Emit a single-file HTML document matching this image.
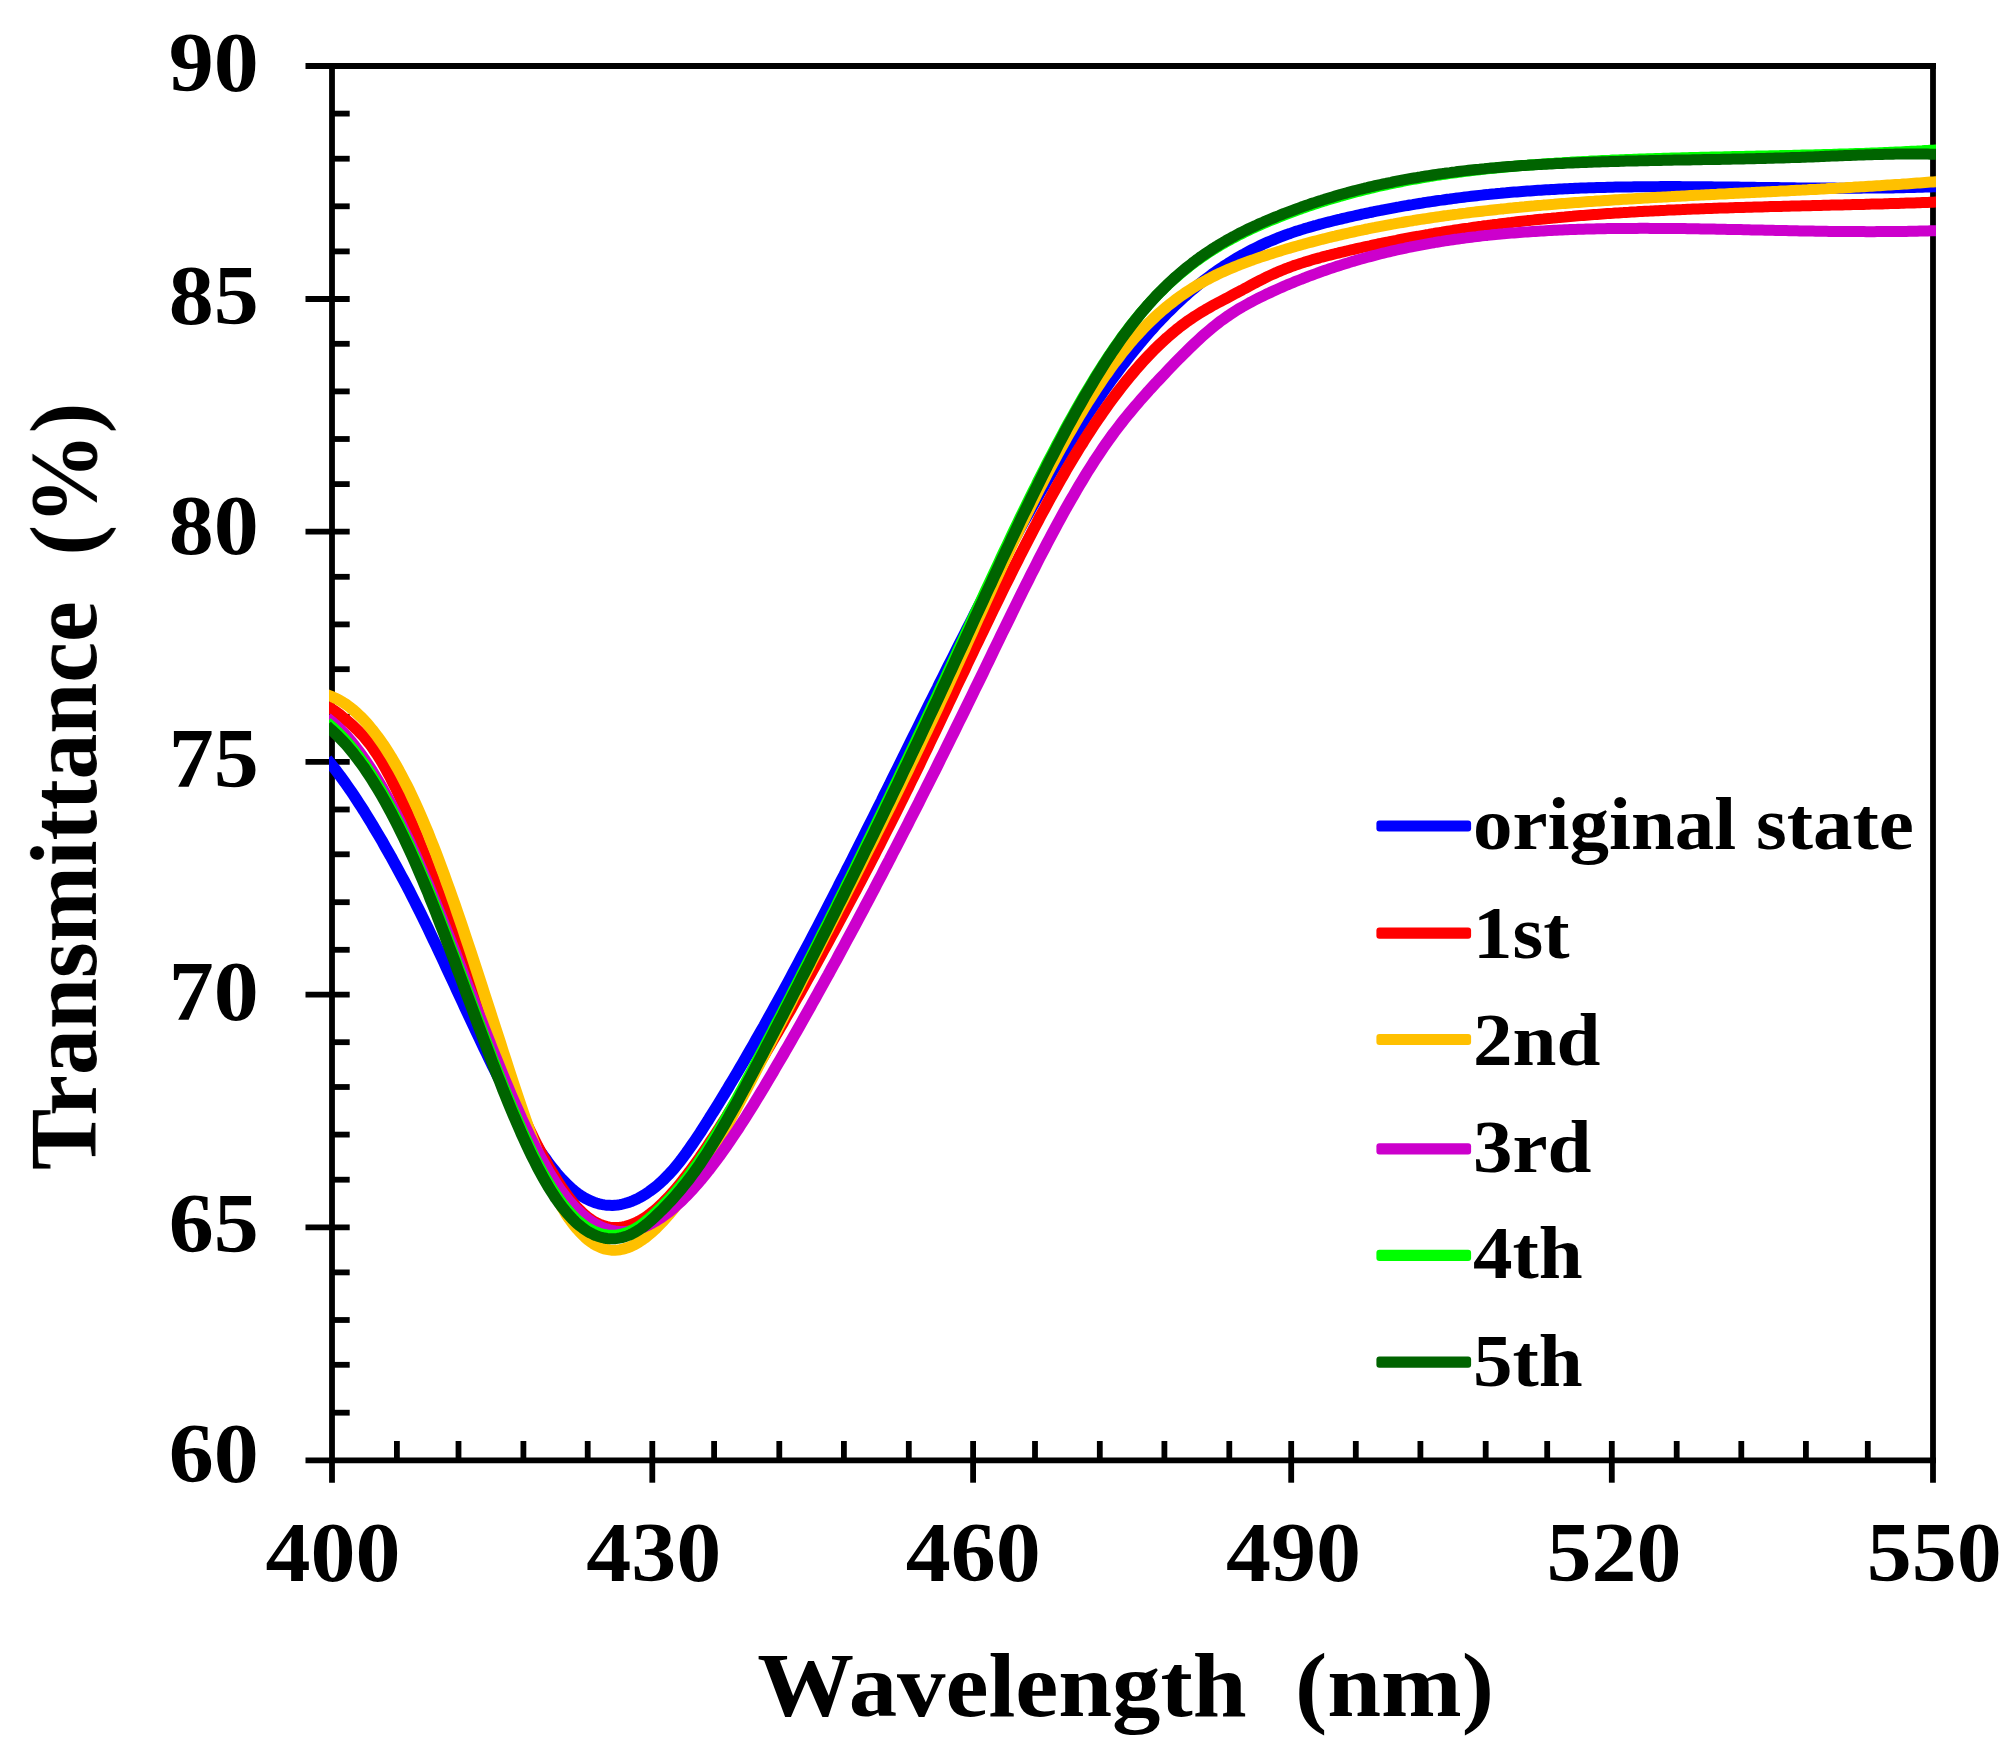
<!DOCTYPE html>
<html><head><meta charset="utf-8"><title>Transmittance</title>
<style>
html,body{margin:0;padding:0;background:#fff}
svg{display:block}
text{font-family:"Liberation Serif","Times New Roman",serif;font-weight:bold;fill:#000;white-space:pre;filter:blur(0.6px)}
.ax{stroke:#000;stroke-width:5.8;fill:none;stroke-linecap:butt}
.cv{fill:none;stroke-width:11;stroke-linejoin:round;stroke-linecap:butt}
.lg{fill:none;stroke-width:12;stroke-linecap:round}
</style></head><body>
<svg width="2011" height="1753" viewBox="0 0 2011 1753">
<rect width="2011" height="1753" fill="#fff"/>
<defs><clipPath id="cp"><rect x="329" y="60" width="1607" height="1403"/></clipPath></defs>

<g class="ax">
<path d="M305.5,66.0 H1936"/>
<path d="M332.0,63 V1482.7"/>
<path d="M1933.0,63 V1482.7"/>
<path d="M305.5,1460.3 H1936"/>
<path d="M332.0,113.6 H349.7"/>
<path d="M332.0,158.7 H349.7"/>
<path d="M332.0,206.3 H349.7"/>
<path d="M332.0,251.4 H349.7"/>
<path d="M305.5,299.0 H349.7"/>
<path d="M332.0,343.8 H349.7"/>
<path d="M332.0,391.4 H349.7"/>
<path d="M332.0,439.0 H349.7"/>
<path d="M332.0,484.1 H349.7"/>
<path d="M305.5,531.7 H349.7"/>
<path d="M332.0,576.8 H349.7"/>
<path d="M332.0,624.4 H349.7"/>
<path d="M332.0,669.2 H349.7"/>
<path d="M332.0,716.8 H349.7"/>
<path d="M305.5,761.9 H349.7"/>
<path d="M332.0,809.5 H349.7"/>
<path d="M332.0,854.3 H349.7"/>
<path d="M332.0,902.2 H349.7"/>
<path d="M332.0,949.8 H349.7"/>
<path d="M305.5,994.6 H349.7"/>
<path d="M332.0,1042.2 H349.7"/>
<path d="M332.0,1087.0 H349.7"/>
<path d="M332.0,1134.6 H349.7"/>
<path d="M332.0,1179.7 H349.7"/>
<path d="M305.5,1227.3 H349.7"/>
<path d="M332.0,1272.4 H349.7"/>
<path d="M332.0,1320.0 H349.7"/>
<path d="M332.0,1364.8 H349.7"/>
<path d="M332.0,1412.7 H349.7"/>
<path d="M396.9,1441 V1460.3"/>
<path d="M458.5,1441 V1460.3"/>
<path d="M523.4,1441 V1460.3"/>
<path d="M587.7,1441 V1460.3"/>
<path d="M652.3,1441 V1482.7"/>
<path d="M714.1,1441 V1460.3"/>
<path d="M779.3,1441 V1460.3"/>
<path d="M843.9,1441 V1460.3"/>
<path d="M908.8,1441 V1460.3"/>
<path d="M973.1,1441 V1482.7"/>
<path d="M1035.0,1441 V1460.3"/>
<path d="M1099.8,1441 V1460.3"/>
<path d="M1164.4,1441 V1460.3"/>
<path d="M1229.3,1441 V1460.3"/>
<path d="M1291.2,1441 V1482.7"/>
<path d="M1355.8,1441 V1460.3"/>
<path d="M1420.4,1441 V1460.3"/>
<path d="M1485.7,1441 V1460.3"/>
<path d="M1547.2,1441 V1460.3"/>
<path d="M1611.8,1441 V1482.7"/>
<path d="M1676.7,1441 V1460.3"/>
<path d="M1741.3,1441 V1460.3"/>
<path d="M1805.9,1441 V1460.3"/>
<path d="M1867.8,1441 V1460.3"/>
</g>
<g clip-path="url(#cp)"><g transform="scale(1.08,1)">
<path class="cv" stroke="#0000ff" d="M302.5,758.8 L304.9,762.1 L307.4,765.4 L309.9,768.7 L312.3,772.2 L314.8,775.7 L317.3,779.4 L319.8,783.1 L322.2,786.9 L324.7,790.7 L327.2,794.7 L329.6,798.7 L332.1,802.8 L334.6,806.9 L337.1,811.1 L339.5,815.4 L342.0,819.7 L344.5,824.1 L346.9,828.6 L349.4,833.1 L351.9,837.6 L354.4,842.2 L356.8,846.9 L359.3,851.6 L361.8,856.3 L364.2,861.1 L366.7,866.0 L369.2,870.9 L371.6,875.8 L374.1,880.8 L376.6,885.9 L379.1,891.0 L381.5,896.2 L384.0,901.5 L386.5,906.8 L388.9,912.1 L391.4,917.5 L393.9,923.0 L396.4,928.5 L398.8,934.1 L401.3,939.7 L403.8,945.3 L406.2,950.9 L408.7,956.6 L411.2,962.3 L413.6,968.0 L416.1,973.8 L418.6,979.5 L421.1,985.3 L423.5,991.0 L426.0,996.8 L428.5,1002.6 L430.9,1008.3 L433.4,1014.0 L435.9,1019.8 L438.4,1025.5 L440.8,1031.2 L443.3,1036.8 L445.8,1042.4 L448.2,1048.0 L450.7,1053.6 L453.2,1059.1 L455.6,1064.6 L458.1,1070.0 L460.6,1075.4 L463.1,1080.7 L465.5,1085.9 L468.0,1091.1 L470.5,1096.2 L472.9,1101.3 L475.4,1106.3 L477.9,1111.2 L480.4,1116.0 L482.8,1120.7 L485.3,1125.3 L487.8,1129.9 L490.2,1134.3 L492.7,1138.7 L495.2,1142.9 L497.6,1147.0 L500.1,1151.1 L502.6,1155.0 L505.1,1158.7 L507.5,1162.4 L510.0,1165.9 L512.5,1169.3 L514.9,1172.6 L517.4,1175.7 L519.9,1178.7 L522.4,1181.5 L524.8,1184.2 L527.3,1186.7 L529.8,1189.1 L532.2,1191.3 L534.7,1193.3 L537.2,1195.2 L539.7,1196.9 L542.1,1198.4 L544.6,1199.8 L547.1,1201.0 L549.5,1202.1 L552.0,1203.0 L554.5,1203.8 L556.9,1204.4 L559.4,1204.9 L561.9,1205.2 L564.4,1205.3 L566.8,1205.4 L569.3,1205.2 L571.8,1205.0 L574.2,1204.6 L576.7,1204.0 L579.2,1203.3 L581.7,1202.5 L584.1,1201.6 L586.6,1200.5 L589.1,1199.3 L591.5,1198.0 L594.0,1196.5 L596.5,1194.9 L598.9,1193.2 L601.4,1191.4 L603.9,1189.4 L606.4,1187.4 L608.8,1185.2 L611.3,1182.9 L613.8,1180.4 L616.2,1177.8 L618.7,1175.1 L621.2,1172.2 L623.7,1169.2 L626.1,1166.0 L628.6,1162.7 L631.1,1159.3 L633.5,1155.7 L636.0,1152.1 L638.5,1148.3 L640.9,1144.5 L643.4,1140.6 L645.9,1136.6 L648.4,1132.6 L650.8,1128.5 L653.3,1124.3 L655.8,1120.1 L658.2,1115.8 L660.7,1111.6 L663.2,1107.3 L665.7,1102.9 L668.1,1098.6 L670.6,1094.2 L673.1,1089.8 L675.5,1085.3 L678.0,1080.9 L680.5,1076.4 L683.0,1071.9 L685.4,1067.4 L687.9,1062.8 L690.4,1058.2 L692.8,1053.6 L695.3,1049.0 L697.8,1044.3 L700.2,1039.6 L702.7,1034.9 L705.2,1030.2 L707.7,1025.5 L710.1,1020.7 L712.6,1015.9 L715.1,1011.1 L717.5,1006.3 L720.0,1001.4 L722.5,996.6 L725.0,991.7 L727.4,986.8 L729.9,981.9 L732.4,976.9 L734.8,972.0 L737.3,967.0 L739.8,962.0 L742.2,957.0 L744.7,952.0 L747.2,946.9 L749.7,941.8 L752.1,936.8 L754.6,931.7 L757.1,926.6 L759.5,921.5 L762.0,916.3 L764.5,911.2 L767.0,906.0 L769.4,900.8 L771.9,895.7 L774.4,890.5 L776.8,885.2 L779.3,880.0 L781.8,874.8 L784.2,869.5 L786.7,864.3 L789.2,859.0 L791.7,853.7 L794.1,848.4 L796.6,843.1 L799.1,837.8 L801.5,832.5 L804.0,827.2 L806.5,821.9 L809.0,816.5 L811.4,811.2 L813.9,805.8 L816.4,800.5 L818.8,795.1 L821.3,789.7 L823.8,784.4 L826.2,779.0 L828.7,773.6 L831.2,768.2 L833.7,762.8 L836.1,757.4 L838.6,752.0 L841.1,746.6 L843.5,741.3 L846.0,735.9 L848.5,730.5 L851.0,725.1 L853.4,719.7 L855.9,714.3 L858.4,708.9 L860.8,703.6 L863.3,698.2 L865.8,692.8 L868.3,687.5 L870.7,682.1 L873.2,676.8 L875.7,671.4 L878.1,666.1 L880.6,660.8 L883.1,655.5 L885.5,650.2 L888.0,644.9 L890.5,639.6 L893.0,634.3 L895.4,629.1 L897.9,623.9 L900.4,618.6 L902.8,613.4 L905.3,608.2 L907.8,603.0 L910.3,597.9 L912.7,592.7 L915.2,587.6 L917.7,582.5 L920.1,577.4 L922.6,572.3 L925.1,567.3 L927.5,562.2 L930.0,557.2 L932.5,552.2 L935.0,547.3 L937.4,542.3 L939.9,537.4 L942.4,532.5 L944.8,527.6 L947.3,522.8 L949.8,517.9 L952.3,513.1 L954.7,508.4 L957.2,503.6 L959.7,498.9 L962.1,494.2 L964.6,489.6 L967.1,484.9 L969.5,480.3 L972.0,475.8 L974.5,471.2 L977.0,466.7 L979.4,462.3 L981.9,457.8 L984.4,453.4 L986.8,449.1 L989.3,444.7 L991.8,440.4 L994.3,436.2 L996.7,432.0 L999.2,427.8 L1001.7,423.6 L1004.1,419.5 L1006.6,415.4 L1009.1,411.4 L1011.6,407.4 L1014.0,403.5 L1016.5,399.6 L1019.0,395.7 L1021.4,391.9 L1023.9,388.1 L1026.4,384.3 L1028.8,380.6 L1031.3,376.9 L1033.8,373.3 L1036.3,369.7 L1038.7,366.2 L1041.2,362.7 L1043.7,359.3 L1046.1,355.9 L1048.6,352.5 L1051.1,349.2 L1053.6,345.9 L1056.0,342.7 L1058.5,339.6 L1061.0,336.4 L1063.4,333.4 L1065.9,330.3 L1068.4,327.4 L1070.8,324.4 L1073.3,321.6 L1075.8,318.7 L1078.3,316.0 L1080.7,313.2 L1083.2,310.6 L1085.7,307.9 L1088.1,305.3 L1090.6,302.8 L1093.1,300.3 L1095.6,297.9 L1098.0,295.5 L1100.5,293.1 L1103.0,290.8 L1105.4,288.6 L1107.9,286.4 L1110.4,284.2 L1112.8,282.1 L1115.3,280.0 L1117.8,278.0 L1120.3,276.0 L1122.7,274.0 L1125.2,272.1 L1127.7,270.2 L1130.1,268.4 L1132.6,266.6 L1135.1,264.9 L1137.6,263.1 L1140.0,261.5 L1142.5,259.8 L1145.0,258.2 L1147.4,256.7 L1149.9,255.1 L1152.4,253.7 L1154.9,252.2 L1157.3,250.8 L1159.8,249.4 L1162.3,248.1 L1164.7,246.8 L1167.2,245.5 L1169.7,244.2 L1172.1,243.0 L1174.6,241.8 L1177.1,240.7 L1179.6,239.6 L1182.0,238.5 L1184.5,237.4 L1187.0,236.4 L1189.4,235.4 L1191.9,234.4 L1194.4,233.5 L1196.9,232.5 L1199.3,231.6 L1201.8,230.8 L1204.3,229.9 L1206.7,229.1 L1209.2,228.2 L1211.7,227.5 L1214.1,226.7 L1216.6,225.9 L1219.1,225.2 L1221.6,224.4 L1224.0,223.7 L1226.5,223.0 L1229.0,222.3 L1231.4,221.7 L1233.9,221.0 L1236.4,220.3 L1238.9,219.7 L1241.3,219.1 L1243.8,218.4 L1246.3,217.8 L1248.7,217.2 L1251.2,216.6 L1253.7,216.0 L1256.1,215.4 L1258.6,214.8 L1261.1,214.2 L1263.6,213.7 L1266.0,213.1 L1268.5,212.5 L1271.0,212.0 L1273.4,211.4 L1275.9,210.9 L1278.4,210.4 L1280.9,209.8 L1283.3,209.3 L1285.8,208.8 L1288.3,208.3 L1290.7,207.8 L1293.2,207.3 L1295.7,206.9 L1298.1,206.4 L1300.6,205.9 L1303.1,205.5 L1305.6,205.0 L1308.0,204.6 L1310.5,204.1 L1313.0,203.7 L1315.4,203.3 L1317.9,202.8 L1320.4,202.4 L1322.9,202.0 L1325.3,201.6 L1327.8,201.2 L1330.3,200.8 L1332.7,200.4 L1335.2,200.1 L1337.7,199.7 L1340.2,199.3 L1342.6,199.0 L1345.1,198.6 L1347.6,198.3 L1350.0,197.9 L1352.5,197.6 L1355.0,197.3 L1357.4,196.9 L1359.9,196.6 L1362.4,196.3 L1364.9,196.0 L1367.3,195.7 L1369.8,195.4 L1372.3,195.1 L1374.7,194.8 L1377.2,194.6 L1379.7,194.3 L1382.2,194.0 L1384.6,193.8 L1387.1,193.5 L1389.6,193.3 L1392.0,193.0 L1394.5,192.8 L1397.0,192.5 L1399.4,192.3 L1401.9,192.1 L1404.4,191.9 L1406.9,191.7 L1409.3,191.5 L1411.8,191.3 L1414.3,191.1 L1416.7,190.9 L1419.2,190.7 L1421.7,190.5 L1424.2,190.3 L1426.6,190.2 L1429.1,190.0 L1431.6,189.8 L1434.0,189.7 L1436.5,189.5 L1439.0,189.4 L1441.4,189.2 L1443.9,189.1 L1446.4,189.0 L1448.9,188.8 L1451.3,188.7 L1453.8,188.6 L1456.3,188.5 L1458.7,188.3 L1461.2,188.2 L1463.7,188.1 L1466.2,188.0 L1468.6,187.9 L1471.1,187.8 L1473.6,187.8 L1476.0,187.7 L1478.5,187.6 L1481.0,187.5 L1483.5,187.4 L1485.9,187.4 L1488.4,187.3 L1490.9,187.3 L1493.3,187.2 L1495.8,187.1 L1498.3,187.1 L1500.7,187.0 L1503.2,187.0 L1505.7,186.9 L1508.2,186.9 L1510.6,186.9 L1513.1,186.8 L1515.6,186.8 L1518.0,186.8 L1520.5,186.8 L1523.0,186.7 L1525.5,186.7 L1527.9,186.7 L1530.4,186.7 L1532.9,186.7 L1535.3,186.7 L1537.8,186.6 L1540.3,186.6 L1542.7,186.6 L1545.2,186.6 L1547.7,186.6 L1550.2,186.6 L1552.6,186.6 L1555.1,186.6 L1557.6,186.7 L1560.0,186.7 L1562.5,186.7 L1565.0,186.7 L1567.5,186.7 L1569.9,186.7 L1572.4,186.7 L1574.9,186.8 L1577.3,186.8 L1579.8,186.8 L1582.3,186.8 L1584.7,186.8 L1587.2,186.9 L1589.7,186.9 L1592.2,186.9 L1594.6,187.0 L1597.1,187.0 L1599.6,187.0 L1602.0,187.0 L1604.5,187.1 L1607.0,187.1 L1609.5,187.1 L1611.9,187.2 L1614.4,187.2 L1616.9,187.2 L1619.3,187.3 L1621.8,187.3 L1624.3,187.3 L1626.8,187.4 L1629.2,187.4 L1631.7,187.4 L1634.2,187.5 L1636.6,187.5 L1639.1,187.5 L1641.6,187.6 L1644.0,187.6 L1646.5,187.6 L1649.0,187.7 L1651.5,187.7 L1653.9,187.7 L1656.4,187.8 L1658.9,187.8 L1661.3,187.8 L1663.8,187.9 L1666.3,187.9 L1668.8,187.9 L1671.2,187.9 L1673.7,188.0 L1676.2,188.0 L1678.6,188.0 L1681.1,188.0 L1683.6,188.1 L1686.0,188.1 L1688.5,188.1 L1691.0,188.1 L1693.5,188.1 L1695.9,188.1 L1698.4,188.1 L1700.9,188.2 L1703.3,188.2 L1705.8,188.2 L1708.3,188.2 L1710.8,188.2 L1713.2,188.2 L1715.7,188.2 L1718.2,188.2 L1720.6,188.2 L1723.1,188.2 L1725.6,188.1 L1728.0,188.1 L1730.5,188.1 L1733.0,188.1 L1735.5,188.1 L1737.9,188.1 L1740.4,188.0 L1742.9,188.0 L1745.3,188.0 L1747.8,187.9 L1750.3,187.9 L1752.8,187.9 L1755.2,187.8 L1757.7,187.8 L1760.2,187.7 L1762.6,187.7 L1765.1,187.6 L1767.6,187.5 L1770.0,187.5 L1772.5,187.4 L1775.0,187.3 L1777.5,187.3 L1779.9,187.2 L1782.4,187.1 L1784.9,187.0 L1787.3,186.9 L1789.8,186.8 L1792.3,186.7 L1794.8,186.7"/>
<path class="cv" stroke="#ff0000" d="M302.5,705.4 L304.9,707.2 L307.4,709.1 L309.9,711.0 L312.3,712.9 L314.8,714.9 L317.3,717.1 L319.8,719.2 L322.2,721.5 L324.7,723.8 L327.2,726.2 L329.6,728.7 L332.1,731.3 L334.6,734.1 L337.1,737.0 L339.5,740.1 L342.0,743.4 L344.5,746.9 L346.9,750.7 L349.4,754.7 L351.9,758.9 L354.4,763.4 L356.8,768.0 L359.3,772.9 L361.8,777.9 L364.2,783.1 L366.7,788.5 L369.2,794.0 L371.6,799.7 L374.1,805.6 L376.6,811.6 L379.1,817.8 L381.5,824.0 L384.0,830.5 L386.5,837.0 L388.9,843.6 L391.4,850.4 L393.9,857.2 L396.4,864.2 L398.8,871.2 L401.3,878.3 L403.8,885.5 L406.2,892.7 L408.7,900.0 L411.2,907.4 L413.6,914.8 L416.1,922.2 L418.6,929.7 L421.1,937.2 L423.5,944.7 L426.0,952.2 L428.5,959.7 L430.9,967.2 L433.4,974.7 L435.9,982.2 L438.4,989.7 L440.8,997.1 L443.3,1004.5 L445.8,1011.8 L448.2,1019.1 L450.7,1026.4 L453.2,1033.5 L455.6,1040.6 L458.1,1047.6 L460.6,1054.6 L463.1,1061.4 L465.5,1068.1 L468.0,1074.8 L470.5,1081.3 L472.9,1087.8 L475.4,1094.1 L477.9,1100.3 L480.4,1106.4 L482.8,1112.4 L485.3,1118.3 L487.8,1124.1 L490.2,1129.8 L492.7,1135.3 L495.2,1140.7 L497.6,1146.0 L500.1,1151.1 L502.6,1156.1 L505.1,1161.0 L507.5,1165.8 L510.0,1170.4 L512.5,1174.8 L514.9,1179.1 L517.4,1183.3 L519.9,1187.3 L522.4,1191.2 L524.8,1194.9 L527.3,1198.4 L529.8,1201.8 L532.2,1204.9 L534.7,1207.9 L537.2,1210.6 L539.7,1213.2 L542.1,1215.5 L544.6,1217.6 L547.1,1219.5 L549.5,1221.2 L552.0,1222.6 L554.5,1223.9 L556.9,1225.0 L559.4,1225.9 L561.9,1226.6 L564.4,1227.1 L566.8,1227.4 L569.3,1227.5 L571.8,1227.5 L574.2,1227.3 L576.7,1226.9 L579.2,1226.3 L581.7,1225.6 L584.1,1224.7 L586.6,1223.7 L589.1,1222.5 L591.5,1221.2 L594.0,1219.7 L596.5,1218.1 L598.9,1216.3 L601.4,1214.4 L603.9,1212.3 L606.4,1210.2 L608.8,1207.9 L611.3,1205.4 L613.8,1202.9 L616.2,1200.2 L618.7,1197.5 L621.2,1194.6 L623.7,1191.6 L626.1,1188.5 L628.6,1185.3 L631.1,1182.1 L633.5,1178.7 L636.0,1175.3 L638.5,1171.8 L640.9,1168.2 L643.4,1164.5 L645.9,1160.8 L648.4,1157.0 L650.8,1153.1 L653.3,1149.2 L655.8,1145.2 L658.2,1141.2 L660.7,1137.1 L663.2,1133.0 L665.7,1128.9 L668.1,1124.7 L670.6,1120.5 L673.1,1116.3 L675.5,1112.0 L678.0,1107.7 L680.5,1103.4 L683.0,1099.1 L685.4,1094.8 L687.9,1090.4 L690.4,1086.1 L692.8,1081.7 L695.3,1077.2 L697.8,1072.8 L700.2,1068.3 L702.7,1063.9 L705.2,1059.4 L707.7,1054.9 L710.1,1050.3 L712.6,1045.8 L715.1,1041.2 L717.5,1036.6 L720.0,1032.0 L722.5,1027.4 L725.0,1022.8 L727.4,1018.1 L729.9,1013.4 L732.4,1008.8 L734.8,1004.1 L737.3,999.3 L739.8,994.6 L742.2,989.9 L744.7,985.1 L747.2,980.3 L749.7,975.5 L752.1,970.7 L754.6,965.9 L757.1,961.0 L759.5,956.2 L762.0,951.3 L764.5,946.5 L767.0,941.6 L769.4,936.7 L771.9,931.7 L774.4,926.8 L776.8,921.9 L779.3,916.9 L781.8,911.9 L784.2,906.9 L786.7,901.9 L789.2,896.9 L791.7,891.9 L794.1,886.8 L796.6,881.8 L799.1,876.7 L801.5,871.6 L804.0,866.5 L806.5,861.3 L809.0,856.2 L811.4,851.0 L813.9,845.8 L816.4,840.5 L818.8,835.3 L821.3,830.0 L823.8,824.7 L826.2,819.4 L828.7,814.1 L831.2,808.7 L833.7,803.3 L836.1,797.9 L838.6,792.5 L841.1,787.1 L843.5,781.6 L846.0,776.1 L848.5,770.6 L851.0,765.1 L853.4,759.5 L855.9,754.0 L858.4,748.4 L860.8,742.8 L863.3,737.3 L865.8,731.7 L868.3,726.1 L870.7,720.5 L873.2,714.8 L875.7,709.2 L878.1,703.6 L880.6,698.0 L883.1,692.3 L885.5,686.7 L888.0,681.1 L890.5,675.5 L893.0,669.9 L895.4,664.2 L897.9,658.6 L900.4,653.0 L902.8,647.4 L905.3,641.9 L907.8,636.3 L910.3,630.7 L912.7,625.2 L915.2,619.7 L917.7,614.1 L920.1,608.6 L922.6,603.2 L925.1,597.7 L927.5,592.3 L930.0,586.8 L932.5,581.4 L935.0,576.1 L937.4,570.7 L939.9,565.4 L942.4,560.1 L944.8,554.8 L947.3,549.6 L949.8,544.4 L952.3,539.2 L954.7,534.1 L957.2,528.9 L959.7,523.9 L962.1,518.8 L964.6,513.8 L967.1,508.9 L969.5,504.0 L972.0,499.1 L974.5,494.2 L977.0,489.4 L979.4,484.7 L981.9,480.0 L984.4,475.3 L986.8,470.7 L989.3,466.2 L991.8,461.7 L994.3,457.2 L996.7,452.8 L999.2,448.4 L1001.7,444.2 L1004.1,439.9 L1006.6,435.7 L1009.1,431.6 L1011.6,427.5 L1014.0,423.5 L1016.5,419.6 L1019.0,415.7 L1021.4,411.8 L1023.9,408.1 L1026.4,404.3 L1028.8,400.7 L1031.3,397.1 L1033.8,393.5 L1036.3,390.0 L1038.7,386.6 L1041.2,383.2 L1043.7,379.9 L1046.1,376.7 L1048.6,373.5 L1051.1,370.3 L1053.6,367.3 L1056.0,364.3 L1058.5,361.3 L1061.0,358.4 L1063.4,355.6 L1065.9,352.8 L1068.4,350.1 L1070.8,347.5 L1073.3,344.9 L1075.8,342.4 L1078.3,339.9 L1080.7,337.5 L1083.2,335.2 L1085.7,332.9 L1088.1,330.7 L1090.6,328.5 L1093.1,326.4 L1095.6,324.4 L1098.0,322.4 L1100.5,320.5 L1103.0,318.7 L1105.4,316.9 L1107.9,315.2 L1110.4,313.5 L1112.8,311.9 L1115.3,310.3 L1117.8,308.7 L1120.3,307.2 L1122.7,305.7 L1125.2,304.2 L1127.7,302.8 L1130.1,301.4 L1132.6,300.0 L1135.1,298.6 L1137.6,297.2 L1140.0,295.8 L1142.5,294.3 L1145.0,292.9 L1147.4,291.5 L1149.9,290.1 L1152.4,288.6 L1154.9,287.2 L1157.3,285.8 L1159.8,284.3 L1162.3,282.9 L1164.7,281.5 L1167.2,280.1 L1169.7,278.8 L1172.1,277.4 L1174.6,276.1 L1177.1,274.9 L1179.6,273.7 L1182.0,272.5 L1184.5,271.4 L1187.0,270.3 L1189.4,269.2 L1191.9,268.2 L1194.4,267.1 L1196.9,266.2 L1199.3,265.2 L1201.8,264.3 L1204.3,263.4 L1206.7,262.6 L1209.2,261.7 L1211.7,260.9 L1214.1,260.1 L1216.6,259.3 L1219.1,258.6 L1221.6,257.9 L1224.0,257.1 L1226.5,256.4 L1229.0,255.7 L1231.4,255.1 L1233.9,254.4 L1236.4,253.7 L1238.9,253.1 L1241.3,252.4 L1243.8,251.8 L1246.3,251.2 L1248.7,250.5 L1251.2,249.9 L1253.7,249.3 L1256.1,248.7 L1258.6,248.1 L1261.1,247.5 L1263.6,246.9 L1266.0,246.3 L1268.5,245.8 L1271.0,245.2 L1273.4,244.6 L1275.9,244.0 L1278.4,243.5 L1280.9,242.9 L1283.3,242.4 L1285.8,241.9 L1288.3,241.3 L1290.7,240.8 L1293.2,240.3 L1295.7,239.7 L1298.1,239.2 L1300.6,238.7 L1303.1,238.2 L1305.6,237.7 L1308.0,237.2 L1310.5,236.7 L1313.0,236.3 L1315.4,235.8 L1317.9,235.3 L1320.4,234.8 L1322.9,234.4 L1325.3,233.9 L1327.8,233.5 L1330.3,233.0 L1332.7,232.6 L1335.2,232.2 L1337.7,231.7 L1340.2,231.3 L1342.6,230.9 L1345.1,230.5 L1347.6,230.0 L1350.0,229.6 L1352.5,229.2 L1355.0,228.8 L1357.4,228.4 L1359.9,228.1 L1362.4,227.7 L1364.9,227.3 L1367.3,226.9 L1369.8,226.5 L1372.3,226.2 L1374.7,225.8 L1377.2,225.5 L1379.7,225.1 L1382.2,224.8 L1384.6,224.4 L1387.1,224.1 L1389.6,223.7 L1392.0,223.4 L1394.5,223.1 L1397.0,222.8 L1399.4,222.5 L1401.9,222.1 L1404.4,221.8 L1406.9,221.5 L1409.3,221.2 L1411.8,220.9 L1414.3,220.6 L1416.7,220.4 L1419.2,220.1 L1421.7,219.8 L1424.2,219.5 L1426.6,219.2 L1429.1,219.0 L1431.6,218.7 L1434.0,218.4 L1436.5,218.2 L1439.0,217.9 L1441.4,217.7 L1443.9,217.4 L1446.4,217.2 L1448.9,217.0 L1451.3,216.7 L1453.8,216.5 L1456.3,216.3 L1458.7,216.0 L1461.2,215.8 L1463.7,215.6 L1466.2,215.4 L1468.6,215.2 L1471.1,215.0 L1473.6,214.8 L1476.0,214.6 L1478.5,214.4 L1481.0,214.2 L1483.5,214.0 L1485.9,213.8 L1488.4,213.6 L1490.9,213.4 L1493.3,213.3 L1495.8,213.1 L1498.3,212.9 L1500.7,212.7 L1503.2,212.6 L1505.7,212.4 L1508.2,212.3 L1510.6,212.1 L1513.1,211.9 L1515.6,211.8 L1518.0,211.6 L1520.5,211.5 L1523.0,211.3 L1525.5,211.2 L1527.9,211.1 L1530.4,210.9 L1532.9,210.8 L1535.3,210.7 L1537.8,210.5 L1540.3,210.4 L1542.7,210.3 L1545.2,210.1 L1547.7,210.0 L1550.2,209.9 L1552.6,209.8 L1555.1,209.7 L1557.6,209.6 L1560.0,209.4 L1562.5,209.3 L1565.0,209.2 L1567.5,209.1 L1569.9,209.0 L1572.4,208.9 L1574.9,208.8 L1577.3,208.7 L1579.8,208.6 L1582.3,208.5 L1584.7,208.4 L1587.2,208.3 L1589.7,208.2 L1592.2,208.1 L1594.6,208.1 L1597.1,208.0 L1599.6,207.9 L1602.0,207.8 L1604.5,207.7 L1607.0,207.6 L1609.5,207.5 L1611.9,207.5 L1614.4,207.4 L1616.9,207.3 L1619.3,207.2 L1621.8,207.2 L1624.3,207.1 L1626.8,207.0 L1629.2,206.9 L1631.7,206.9 L1634.2,206.8 L1636.6,206.7 L1639.1,206.6 L1641.6,206.6 L1644.0,206.5 L1646.5,206.4 L1649.0,206.4 L1651.5,206.3 L1653.9,206.2 L1656.4,206.2 L1658.9,206.1 L1661.3,206.0 L1663.8,206.0 L1666.3,205.9 L1668.8,205.8 L1671.2,205.8 L1673.7,205.7 L1676.2,205.7 L1678.6,205.6 L1681.1,205.5 L1683.6,205.5 L1686.0,205.4 L1688.5,205.3 L1691.0,205.3 L1693.5,205.2 L1695.9,205.1 L1698.4,205.1 L1700.9,205.0 L1703.3,205.0 L1705.8,204.9 L1708.3,204.8 L1710.8,204.8 L1713.2,204.7 L1715.7,204.6 L1718.2,204.6 L1720.6,204.5 L1723.1,204.4 L1725.6,204.4 L1728.0,204.3 L1730.5,204.2 L1733.0,204.1 L1735.5,204.1 L1737.9,204.0 L1740.4,203.9 L1742.9,203.9 L1745.3,203.8 L1747.8,203.7 L1750.3,203.6 L1752.8,203.6 L1755.2,203.5 L1757.7,203.4 L1760.2,203.3 L1762.6,203.2 L1765.1,203.1 L1767.6,203.1 L1770.0,203.0 L1772.5,202.9 L1775.0,202.8 L1777.5,202.7 L1779.9,202.6 L1782.4,202.5 L1784.9,202.4 L1787.3,202.3 L1789.8,202.2 L1792.3,202.1 L1794.8,202.0"/>
<path class="cv" stroke="#ffc000" d="M302.5,694.6 L304.9,695.7 L307.4,696.7 L309.9,697.9 L312.3,699.2 L314.8,700.6 L317.3,702.2 L319.8,703.9 L322.2,705.8 L324.7,707.8 L327.2,710.0 L329.6,712.3 L332.1,714.8 L334.6,717.4 L337.1,720.2 L339.5,723.1 L342.0,726.2 L344.5,729.5 L346.9,732.9 L349.4,736.4 L351.9,740.1 L354.4,743.9 L356.8,747.9 L359.3,752.1 L361.8,756.4 L364.2,760.9 L366.7,765.5 L369.2,770.3 L371.6,775.2 L374.1,780.3 L376.6,785.5 L379.1,790.9 L381.5,796.5 L384.0,802.2 L386.5,808.1 L388.9,814.1 L391.4,820.3 L393.9,826.7 L396.4,833.1 L398.8,839.8 L401.3,846.5 L403.8,853.4 L406.2,860.4 L408.7,867.6 L411.2,874.8 L413.6,882.2 L416.1,889.6 L418.6,897.2 L421.1,904.8 L423.5,912.5 L426.0,920.3 L428.5,928.2 L430.9,936.1 L433.4,944.1 L435.9,952.2 L438.4,960.3 L440.8,968.4 L443.3,976.6 L445.8,984.8 L448.2,993.0 L450.7,1001.3 L453.2,1009.6 L455.6,1017.9 L458.1,1026.2 L460.6,1034.4 L463.1,1042.7 L465.5,1051.0 L468.0,1059.2 L470.5,1067.5 L472.9,1075.6 L475.4,1083.8 L477.9,1091.8 L480.4,1099.8 L482.8,1107.7 L485.3,1115.4 L487.8,1123.1 L490.2,1130.6 L492.7,1138.0 L495.2,1145.2 L497.6,1152.3 L500.1,1159.1 L502.6,1165.8 L505.1,1172.3 L507.5,1178.5 L510.0,1184.5 L512.5,1190.3 L514.9,1195.8 L517.4,1201.0 L519.9,1206.0 L522.4,1210.6 L524.8,1215.0 L527.3,1219.0 L529.8,1222.7 L532.2,1226.1 L534.7,1229.3 L537.2,1232.3 L539.7,1235.0 L542.1,1237.6 L544.6,1239.9 L547.1,1241.9 L549.5,1243.8 L552.0,1245.4 L554.5,1246.7 L556.9,1247.9 L559.4,1248.8 L561.9,1249.4 L564.4,1249.9 L566.8,1250.2 L569.3,1250.2 L571.8,1250.0 L574.2,1249.7 L576.7,1249.1 L579.2,1248.4 L581.7,1247.5 L584.1,1246.4 L586.6,1245.1 L589.1,1243.7 L591.5,1242.1 L594.0,1240.3 L596.5,1238.4 L598.9,1236.4 L601.4,1234.2 L603.9,1231.9 L606.4,1229.4 L608.8,1226.8 L611.3,1224.1 L613.8,1221.3 L616.2,1218.3 L618.7,1215.3 L621.2,1212.1 L623.7,1208.9 L626.1,1205.5 L628.6,1202.0 L631.1,1198.4 L633.5,1194.8 L636.0,1191.0 L638.5,1187.2 L640.9,1183.2 L643.4,1179.2 L645.9,1175.1 L648.4,1171.0 L650.8,1166.7 L653.3,1162.4 L655.8,1158.0 L658.2,1153.5 L660.7,1149.0 L663.2,1144.4 L665.7,1139.8 L668.1,1135.1 L670.6,1130.3 L673.1,1125.5 L675.5,1120.7 L678.0,1115.8 L680.5,1110.9 L683.0,1105.9 L685.4,1100.9 L687.9,1095.9 L690.4,1090.8 L692.8,1085.7 L695.3,1080.6 L697.8,1075.4 L700.2,1070.3 L702.7,1065.1 L705.2,1059.9 L707.7,1054.7 L710.1,1049.5 L712.6,1044.3 L715.1,1039.1 L717.5,1033.8 L720.0,1028.6 L722.5,1023.4 L725.0,1018.1 L727.4,1012.9 L729.9,1007.6 L732.4,1002.4 L734.8,997.1 L737.3,991.9 L739.8,986.6 L742.2,981.4 L744.7,976.1 L747.2,970.8 L749.7,965.6 L752.1,960.3 L754.6,955.1 L757.1,949.8 L759.5,944.5 L762.0,939.3 L764.5,934.0 L767.0,928.8 L769.4,923.5 L771.9,918.3 L774.4,913.1 L776.8,907.8 L779.3,902.6 L781.8,897.3 L784.2,892.1 L786.7,886.8 L789.2,881.6 L791.7,876.3 L794.1,871.1 L796.6,865.8 L799.1,860.5 L801.5,855.3 L804.0,850.0 L806.5,844.7 L809.0,839.4 L811.4,834.1 L813.9,828.7 L816.4,823.4 L818.8,818.1 L821.3,812.7 L823.8,807.4 L826.2,802.0 L828.7,796.6 L831.2,791.2 L833.7,785.7 L836.1,780.3 L838.6,774.9 L841.1,769.4 L843.5,763.9 L846.0,758.4 L848.5,752.8 L851.0,747.3 L853.4,741.7 L855.9,736.1 L858.4,730.5 L860.8,724.9 L863.3,719.2 L865.8,713.5 L868.3,707.8 L870.7,702.0 L873.2,696.3 L875.7,690.5 L878.1,684.6 L880.6,678.8 L883.1,672.9 L885.5,667.0 L888.0,661.1 L890.5,655.2 L893.0,649.3 L895.4,643.3 L897.9,637.4 L900.4,631.4 L902.8,625.5 L905.3,619.5 L907.8,613.6 L910.3,607.6 L912.7,601.7 L915.2,595.8 L917.7,589.9 L920.1,584.0 L922.6,578.2 L925.1,572.4 L927.5,566.6 L930.0,560.8 L932.5,555.1 L935.0,549.4 L937.4,543.7 L939.9,538.1 L942.4,532.5 L944.8,526.9 L947.3,521.4 L949.8,516.0 L952.3,510.5 L954.7,505.1 L957.2,499.8 L959.7,494.5 L962.1,489.2 L964.6,484.0 L967.1,478.8 L969.5,473.7 L972.0,468.6 L974.5,463.6 L977.0,458.6 L979.4,453.7 L981.9,448.8 L984.4,444.0 L986.8,439.2 L989.3,434.5 L991.8,429.8 L994.3,425.2 L996.7,420.7 L999.2,416.2 L1001.7,411.8 L1004.1,407.4 L1006.6,403.1 L1009.1,398.9 L1011.6,394.7 L1014.0,390.6 L1016.5,386.6 L1019.0,382.6 L1021.4,378.7 L1023.9,374.8 L1026.4,371.1 L1028.8,367.3 L1031.3,363.7 L1033.8,360.2 L1036.3,356.7 L1038.7,353.2 L1041.2,349.9 L1043.7,346.6 L1046.1,343.5 L1048.6,340.3 L1051.1,337.3 L1053.6,334.4 L1056.0,331.5 L1058.5,328.7 L1061.0,325.9 L1063.4,323.3 L1065.9,320.7 L1068.4,318.1 L1070.8,315.7 L1073.3,313.3 L1075.8,310.9 L1078.3,308.6 L1080.7,306.4 L1083.2,304.3 L1085.7,302.2 L1088.1,300.1 L1090.6,298.1 L1093.1,296.2 L1095.6,294.3 L1098.0,292.5 L1100.5,290.7 L1103.0,289.0 L1105.4,287.3 L1107.9,285.7 L1110.4,284.1 L1112.8,282.6 L1115.3,281.1 L1117.8,279.6 L1120.3,278.2 L1122.7,276.8 L1125.2,275.5 L1127.7,274.2 L1130.1,272.9 L1132.6,271.7 L1135.1,270.5 L1137.6,269.3 L1140.0,268.2 L1142.5,267.1 L1145.0,266.0 L1147.4,264.9 L1149.9,263.9 L1152.4,262.9 L1154.9,261.9 L1157.3,260.9 L1159.8,260.0 L1162.3,259.0 L1164.7,258.1 L1167.2,257.2 L1169.7,256.3 L1172.1,255.5 L1174.6,254.6 L1177.1,253.8 L1179.6,252.9 L1182.0,252.1 L1184.5,251.3 L1187.0,250.4 L1189.4,249.6 L1191.9,248.8 L1194.4,248.1 L1196.9,247.3 L1199.3,246.5 L1201.8,245.8 L1204.3,245.0 L1206.7,244.3 L1209.2,243.5 L1211.7,242.8 L1214.1,242.1 L1216.6,241.4 L1219.1,240.7 L1221.6,240.0 L1224.0,239.3 L1226.5,238.7 L1229.0,238.0 L1231.4,237.3 L1233.9,236.7 L1236.4,236.1 L1238.9,235.4 L1241.3,234.8 L1243.8,234.2 L1246.3,233.6 L1248.7,233.0 L1251.2,232.4 L1253.7,231.8 L1256.1,231.2 L1258.6,230.6 L1261.1,230.1 L1263.6,229.5 L1266.0,229.0 L1268.5,228.4 L1271.0,227.9 L1273.4,227.4 L1275.9,226.8 L1278.4,226.3 L1280.9,225.8 L1283.3,225.3 L1285.8,224.8 L1288.3,224.3 L1290.7,223.9 L1293.2,223.4 L1295.7,222.9 L1298.1,222.5 L1300.6,222.0 L1303.1,221.5 L1305.6,221.1 L1308.0,220.7 L1310.5,220.2 L1313.0,219.8 L1315.4,219.4 L1317.9,219.0 L1320.4,218.6 L1322.9,218.2 L1325.3,217.8 L1327.8,217.4 L1330.3,217.0 L1332.7,216.6 L1335.2,216.2 L1337.7,215.8 L1340.2,215.5 L1342.6,215.1 L1345.1,214.8 L1347.6,214.4 L1350.0,214.1 L1352.5,213.7 L1355.0,213.4 L1357.4,213.1 L1359.9,212.7 L1362.4,212.4 L1364.9,212.1 L1367.3,211.8 L1369.8,211.5 L1372.3,211.2 L1374.7,210.9 L1377.2,210.6 L1379.7,210.3 L1382.2,210.0 L1384.6,209.7 L1387.1,209.4 L1389.6,209.1 L1392.0,208.9 L1394.5,208.6 L1397.0,208.3 L1399.4,208.1 L1401.9,207.8 L1404.4,207.5 L1406.9,207.3 L1409.3,207.0 L1411.8,206.8 L1414.3,206.5 L1416.7,206.3 L1419.2,206.1 L1421.7,205.8 L1424.2,205.6 L1426.6,205.4 L1429.1,205.1 L1431.6,204.9 L1434.0,204.7 L1436.5,204.5 L1439.0,204.3 L1441.4,204.0 L1443.9,203.8 L1446.4,203.6 L1448.9,203.4 L1451.3,203.2 L1453.8,203.0 L1456.3,202.8 L1458.7,202.6 L1461.2,202.4 L1463.7,202.2 L1466.2,202.0 L1468.6,201.8 L1471.1,201.6 L1473.6,201.4 L1476.0,201.3 L1478.5,201.1 L1481.0,200.9 L1483.5,200.7 L1485.9,200.5 L1488.4,200.4 L1490.9,200.2 L1493.3,200.0 L1495.8,199.8 L1498.3,199.7 L1500.7,199.5 L1503.2,199.3 L1505.7,199.2 L1508.2,199.0 L1510.6,198.9 L1513.1,198.7 L1515.6,198.5 L1518.0,198.4 L1520.5,198.2 L1523.0,198.1 L1525.5,197.9 L1527.9,197.8 L1530.4,197.6 L1532.9,197.5 L1535.3,197.3 L1537.8,197.2 L1540.3,197.0 L1542.7,196.9 L1545.2,196.7 L1547.7,196.6 L1550.2,196.4 L1552.6,196.3 L1555.1,196.2 L1557.6,196.0 L1560.0,195.9 L1562.5,195.7 L1565.0,195.6 L1567.5,195.5 L1569.9,195.3 L1572.4,195.2 L1574.9,195.1 L1577.3,194.9 L1579.8,194.8 L1582.3,194.7 L1584.7,194.5 L1587.2,194.4 L1589.7,194.3 L1592.2,194.1 L1594.6,194.0 L1597.1,193.9 L1599.6,193.7 L1602.0,193.6 L1604.5,193.5 L1607.0,193.3 L1609.5,193.2 L1611.9,193.1 L1614.4,193.0 L1616.9,192.8 L1619.3,192.7 L1621.8,192.6 L1624.3,192.4 L1626.8,192.3 L1629.2,192.2 L1631.7,192.0 L1634.2,191.9 L1636.6,191.8 L1639.1,191.7 L1641.6,191.5 L1644.0,191.4 L1646.5,191.3 L1649.0,191.1 L1651.5,191.0 L1653.9,190.9 L1656.4,190.7 L1658.9,190.6 L1661.3,190.5 L1663.8,190.3 L1666.3,190.2 L1668.8,190.1 L1671.2,189.9 L1673.7,189.8 L1676.2,189.6 L1678.6,189.5 L1681.1,189.4 L1683.6,189.2 L1686.0,189.1 L1688.5,188.9 L1691.0,188.8 L1693.5,188.6 L1695.9,188.5 L1698.4,188.4 L1700.9,188.2 L1703.3,188.1 L1705.8,187.9 L1708.3,187.8 L1710.8,187.6 L1713.2,187.4 L1715.7,187.3 L1718.2,187.1 L1720.6,187.0 L1723.1,186.8 L1725.6,186.7 L1728.0,186.5 L1730.5,186.3 L1733.0,186.2 L1735.5,186.0 L1737.9,185.8 L1740.4,185.7 L1742.9,185.5 L1745.3,185.3 L1747.8,185.1 L1750.3,185.0 L1752.8,184.8 L1755.2,184.6 L1757.7,184.4 L1760.2,184.3 L1762.6,184.1 L1765.1,183.9 L1767.6,183.7 L1770.0,183.5 L1772.5,183.3 L1775.0,183.1 L1777.5,182.9 L1779.9,182.7 L1782.4,182.5 L1784.9,182.3 L1787.3,182.1 L1789.8,181.9 L1792.3,181.7 L1794.8,181.5"/>
<path class="cv" stroke="#cc00cc" d="M302.5,717.5 L304.9,719.7 L307.4,721.9 L309.9,724.2 L312.3,726.6 L314.8,729.2 L317.3,731.9 L319.8,734.8 L322.2,737.8 L324.7,740.9 L327.2,744.2 L329.6,747.6 L332.1,751.2 L334.6,754.9 L337.1,758.7 L339.5,762.6 L342.0,766.7 L344.5,770.9 L346.9,775.2 L349.4,779.7 L351.9,784.2 L354.4,788.9 L356.8,793.7 L359.3,798.6 L361.8,803.6 L364.2,808.8 L366.7,814.0 L369.2,819.4 L371.6,824.8 L374.1,830.4 L376.6,836.0 L379.1,841.8 L381.5,847.6 L384.0,853.5 L386.5,859.6 L388.9,865.7 L391.4,871.9 L393.9,878.2 L396.4,884.6 L398.8,891.0 L401.3,897.6 L403.8,904.2 L406.2,910.8 L408.7,917.5 L411.2,924.3 L413.6,931.1 L416.1,937.9 L418.6,944.8 L421.1,951.7 L423.5,958.6 L426.0,965.6 L428.5,972.5 L430.9,979.5 L433.4,986.5 L435.9,993.4 L438.4,1000.4 L440.8,1007.3 L443.3,1014.3 L445.8,1021.2 L448.2,1028.1 L450.7,1034.9 L453.2,1041.7 L455.6,1048.5 L458.1,1055.2 L460.6,1061.8 L463.1,1068.4 L465.5,1074.9 L468.0,1081.4 L470.5,1087.8 L472.9,1094.1 L475.4,1100.3 L477.9,1106.4 L480.4,1112.4 L482.8,1118.4 L485.3,1124.2 L487.8,1129.9 L490.2,1135.5 L492.7,1140.9 L495.2,1146.3 L497.6,1151.5 L500.1,1156.5 L502.6,1161.4 L505.1,1166.2 L507.5,1170.8 L510.0,1175.3 L512.5,1179.6 L514.9,1183.7 L517.4,1187.6 L519.9,1191.4 L522.4,1195.0 L524.8,1198.4 L527.3,1201.6 L529.8,1204.6 L532.2,1207.5 L534.7,1210.2 L537.2,1212.7 L539.7,1215.1 L542.1,1217.3 L544.6,1219.3 L547.1,1221.2 L549.5,1222.9 L552.0,1224.4 L554.5,1225.8 L556.9,1227.1 L559.4,1228.1 L561.9,1229.1 L564.4,1229.8 L566.8,1230.4 L569.3,1230.9 L571.8,1231.3 L574.2,1231.4 L576.7,1231.5 L579.2,1231.4 L581.7,1231.1 L584.1,1230.8 L586.6,1230.3 L589.1,1229.6 L591.5,1228.9 L594.0,1228.0 L596.5,1226.9 L598.9,1225.8 L601.4,1224.5 L603.9,1223.1 L606.4,1221.6 L608.8,1220.0 L611.3,1218.3 L613.8,1216.4 L616.2,1214.5 L618.7,1212.5 L621.2,1210.3 L623.7,1208.1 L626.1,1205.7 L628.6,1203.3 L631.1,1200.8 L633.5,1198.1 L636.0,1195.4 L638.5,1192.6 L640.9,1189.8 L643.4,1186.8 L645.9,1183.7 L648.4,1180.6 L650.8,1177.4 L653.3,1174.1 L655.8,1170.8 L658.2,1167.3 L660.7,1163.8 L663.2,1160.3 L665.7,1156.7 L668.1,1153.0 L670.6,1149.2 L673.1,1145.4 L675.5,1141.5 L678.0,1137.6 L680.5,1133.6 L683.0,1129.6 L685.4,1125.5 L687.9,1121.4 L690.4,1117.2 L692.8,1113.0 L695.3,1108.7 L697.8,1104.4 L700.2,1100.1 L702.7,1095.7 L705.2,1091.3 L707.7,1086.8 L710.1,1082.4 L712.6,1077.9 L715.1,1073.4 L717.5,1068.8 L720.0,1064.2 L722.5,1059.6 L725.0,1055.0 L727.4,1050.4 L729.9,1045.8 L732.4,1041.1 L734.8,1036.5 L737.3,1031.8 L739.8,1027.1 L742.2,1022.4 L744.7,1017.6 L747.2,1012.9 L749.7,1008.2 L752.1,1003.4 L754.6,998.6 L757.1,993.8 L759.5,989.0 L762.0,984.2 L764.5,979.3 L767.0,974.5 L769.4,969.6 L771.9,964.8 L774.4,959.9 L776.8,955.0 L779.3,950.1 L781.8,945.1 L784.2,940.2 L786.7,935.2 L789.2,930.3 L791.7,925.3 L794.1,920.3 L796.6,915.3 L799.1,910.3 L801.5,905.2 L804.0,900.2 L806.5,895.1 L809.0,890.1 L811.4,885.0 L813.9,879.9 L816.4,874.8 L818.8,869.7 L821.3,864.5 L823.8,859.4 L826.2,854.2 L828.7,849.1 L831.2,843.9 L833.7,838.7 L836.1,833.5 L838.6,828.3 L841.1,823.1 L843.5,817.8 L846.0,812.6 L848.5,807.3 L851.0,802.1 L853.4,796.8 L855.9,791.5 L858.4,786.2 L860.8,780.9 L863.3,775.6 L865.8,770.3 L868.3,764.9 L870.7,759.6 L873.2,754.2 L875.7,748.8 L878.1,743.4 L880.6,738.0 L883.1,732.6 L885.5,727.2 L888.0,721.8 L890.5,716.4 L893.0,710.9 L895.4,705.5 L897.9,700.0 L900.4,694.5 L902.8,689.1 L905.3,683.6 L907.8,678.1 L910.3,672.6 L912.7,667.1 L915.2,661.6 L917.7,656.0 L920.1,650.5 L922.6,645.0 L925.1,639.5 L927.5,634.0 L930.0,628.6 L932.5,623.1 L935.0,617.6 L937.4,612.2 L939.9,606.7 L942.4,601.3 L944.8,595.9 L947.3,590.5 L949.8,585.2 L952.3,579.9 L954.7,574.6 L957.2,569.3 L959.7,564.0 L962.1,558.8 L964.6,553.6 L967.1,548.5 L969.5,543.4 L972.0,538.3 L974.5,533.3 L977.0,528.3 L979.4,523.4 L981.9,518.5 L984.4,513.6 L986.8,508.8 L989.3,504.1 L991.8,499.4 L994.3,494.8 L996.7,490.2 L999.2,485.6 L1001.7,481.2 L1004.1,476.8 L1006.6,472.4 L1009.1,468.2 L1011.6,464.0 L1014.0,459.8 L1016.5,455.8 L1019.0,451.8 L1021.4,447.9 L1023.9,444.0 L1026.4,440.2 L1028.8,436.6 L1031.3,432.9 L1033.8,429.4 L1036.3,425.9 L1038.7,422.5 L1041.2,419.1 L1043.7,415.8 L1046.1,412.6 L1048.6,409.4 L1051.1,406.2 L1053.6,403.1 L1056.0,400.0 L1058.5,397.0 L1061.0,394.0 L1063.4,391.0 L1065.9,388.1 L1068.4,385.2 L1070.8,382.3 L1073.3,379.5 L1075.8,376.6 L1078.3,373.8 L1080.7,371.0 L1083.2,368.2 L1085.7,365.4 L1088.1,362.7 L1090.6,359.9 L1093.1,357.2 L1095.6,354.5 L1098.0,351.9 L1100.5,349.2 L1103.0,346.6 L1105.4,344.1 L1107.9,341.6 L1110.4,339.1 L1112.8,336.7 L1115.3,334.3 L1117.8,332.0 L1120.3,329.7 L1122.7,327.5 L1125.2,325.4 L1127.7,323.3 L1130.1,321.2 L1132.6,319.3 L1135.1,317.4 L1137.6,315.5 L1140.0,313.8 L1142.5,312.0 L1145.0,310.3 L1147.4,308.7 L1149.9,307.1 L1152.4,305.6 L1154.9,304.1 L1157.3,302.6 L1159.8,301.2 L1162.3,299.8 L1164.7,298.4 L1167.2,297.1 L1169.7,295.8 L1172.1,294.5 L1174.6,293.3 L1177.1,292.0 L1179.6,290.8 L1182.0,289.6 L1184.5,288.4 L1187.0,287.2 L1189.4,286.1 L1191.9,284.9 L1194.4,283.8 L1196.9,282.7 L1199.3,281.6 L1201.8,280.5 L1204.3,279.5 L1206.7,278.4 L1209.2,277.4 L1211.7,276.3 L1214.1,275.3 L1216.6,274.3 L1219.1,273.4 L1221.6,272.4 L1224.0,271.4 L1226.5,270.5 L1229.0,269.6 L1231.4,268.7 L1233.9,267.8 L1236.4,266.9 L1238.9,266.0 L1241.3,265.2 L1243.8,264.3 L1246.3,263.5 L1248.7,262.7 L1251.2,261.8 L1253.7,261.1 L1256.1,260.3 L1258.6,259.5 L1261.1,258.8 L1263.6,258.0 L1266.0,257.3 L1268.5,256.6 L1271.0,255.9 L1273.4,255.2 L1275.9,254.5 L1278.4,253.8 L1280.9,253.1 L1283.3,252.5 L1285.8,251.9 L1288.3,251.2 L1290.7,250.6 L1293.2,250.0 L1295.7,249.4 L1298.1,248.8 L1300.6,248.3 L1303.1,247.7 L1305.6,247.2 L1308.0,246.6 L1310.5,246.1 L1313.0,245.6 L1315.4,245.1 L1317.9,244.6 L1320.4,244.1 L1322.9,243.6 L1325.3,243.1 L1327.8,242.7 L1330.3,242.2 L1332.7,241.8 L1335.2,241.4 L1337.7,240.9 L1340.2,240.5 L1342.6,240.1 L1345.1,239.7 L1347.6,239.3 L1350.0,239.0 L1352.5,238.6 L1355.0,238.2 L1357.4,237.9 L1359.9,237.5 L1362.4,237.2 L1364.9,236.9 L1367.3,236.6 L1369.8,236.2 L1372.3,235.9 L1374.7,235.6 L1377.2,235.4 L1379.7,235.1 L1382.2,234.8 L1384.6,234.5 L1387.1,234.3 L1389.6,234.0 L1392.0,233.8 L1394.5,233.5 L1397.0,233.3 L1399.4,233.1 L1401.9,232.9 L1404.4,232.7 L1406.9,232.5 L1409.3,232.3 L1411.8,232.1 L1414.3,231.9 L1416.7,231.7 L1419.2,231.5 L1421.7,231.4 L1424.2,231.2 L1426.6,231.0 L1429.1,230.9 L1431.6,230.7 L1434.0,230.6 L1436.5,230.5 L1439.0,230.3 L1441.4,230.2 L1443.9,230.1 L1446.4,230.0 L1448.9,229.8 L1451.3,229.7 L1453.8,229.6 L1456.3,229.5 L1458.7,229.4 L1461.2,229.3 L1463.7,229.3 L1466.2,229.2 L1468.6,229.1 L1471.1,229.0 L1473.6,229.0 L1476.0,228.9 L1478.5,228.8 L1481.0,228.8 L1483.5,228.7 L1485.9,228.7 L1488.4,228.6 L1490.9,228.6 L1493.3,228.6 L1495.8,228.5 L1498.3,228.5 L1500.7,228.5 L1503.2,228.4 L1505.7,228.4 L1508.2,228.4 L1510.6,228.4 L1513.1,228.4 L1515.6,228.4 L1518.0,228.3 L1520.5,228.3 L1523.0,228.3 L1525.5,228.3 L1527.9,228.4 L1530.4,228.4 L1532.9,228.4 L1535.3,228.4 L1537.8,228.4 L1540.3,228.4 L1542.7,228.4 L1545.2,228.5 L1547.7,228.5 L1550.2,228.5 L1552.6,228.5 L1555.1,228.6 L1557.6,228.6 L1560.0,228.6 L1562.5,228.7 L1565.0,228.7 L1567.5,228.7 L1569.9,228.8 L1572.4,228.8 L1574.9,228.9 L1577.3,228.9 L1579.8,229.0 L1582.3,229.0 L1584.7,229.1 L1587.2,229.1 L1589.7,229.2 L1592.2,229.2 L1594.6,229.3 L1597.1,229.3 L1599.6,229.4 L1602.0,229.4 L1604.5,229.5 L1607.0,229.5 L1609.5,229.6 L1611.9,229.6 L1614.4,229.7 L1616.9,229.8 L1619.3,229.8 L1621.8,229.9 L1624.3,229.9 L1626.8,230.0 L1629.2,230.1 L1631.7,230.1 L1634.2,230.2 L1636.6,230.2 L1639.1,230.3 L1641.6,230.3 L1644.0,230.4 L1646.5,230.5 L1649.0,230.5 L1651.5,230.6 L1653.9,230.6 L1656.4,230.7 L1658.9,230.7 L1661.3,230.8 L1663.8,230.8 L1666.3,230.9 L1668.8,230.9 L1671.2,231.0 L1673.7,231.0 L1676.2,231.1 L1678.6,231.1 L1681.1,231.2 L1683.6,231.2 L1686.0,231.2 L1688.5,231.3 L1691.0,231.3 L1693.5,231.4 L1695.9,231.4 L1698.4,231.4 L1700.9,231.5 L1703.3,231.5 L1705.8,231.5 L1708.3,231.5 L1710.8,231.6 L1713.2,231.6 L1715.7,231.6 L1718.2,231.6 L1720.6,231.6 L1723.1,231.6 L1725.6,231.6 L1728.0,231.7 L1730.5,231.7 L1733.0,231.7 L1735.5,231.7 L1737.9,231.6 L1740.4,231.6 L1742.9,231.6 L1745.3,231.6 L1747.8,231.6 L1750.3,231.6 L1752.8,231.6 L1755.2,231.5 L1757.7,231.5 L1760.2,231.5 L1762.6,231.4 L1765.1,231.4 L1767.6,231.3 L1770.0,231.3 L1772.5,231.2 L1775.0,231.2 L1777.5,231.1 L1779.9,231.1 L1782.4,231.0 L1784.9,230.9 L1787.3,230.8 L1789.8,230.8 L1792.3,230.7 L1794.8,230.6"/>
<path class="cv" stroke="#00ff00" d="M302.5,722.3 L304.9,724.6 L307.4,727.0 L309.9,729.4 L312.3,732.0 L314.8,734.7 L317.3,737.5 L319.8,740.4 L322.2,743.4 L324.7,746.6 L327.2,749.9 L329.6,753.3 L332.1,756.8 L334.6,760.5 L337.1,764.2 L339.5,768.1 L342.0,772.1 L344.5,776.3 L346.9,780.5 L349.4,784.9 L351.9,789.3 L354.4,793.9 L356.8,798.7 L359.3,803.5 L361.8,808.4 L364.2,813.5 L366.7,818.6 L369.2,823.9 L371.6,829.3 L374.1,834.8 L376.6,840.5 L379.1,846.2 L381.5,852.1 L384.0,858.0 L386.5,864.1 L388.9,870.3 L391.4,876.6 L393.9,882.9 L396.4,889.4 L398.8,896.0 L401.3,902.7 L403.8,909.4 L406.2,916.2 L408.7,923.1 L411.2,930.0 L413.6,937.0 L416.1,944.1 L418.6,951.1 L421.1,958.2 L423.5,965.4 L426.0,972.6 L428.5,979.7 L430.9,986.9 L433.4,994.1 L435.9,1001.3 L438.4,1008.5 L440.8,1015.7 L443.3,1022.9 L445.8,1030.0 L448.2,1037.1 L450.7,1044.2 L453.2,1051.2 L455.6,1058.2 L458.1,1065.1 L460.6,1072.0 L463.1,1078.8 L465.5,1085.5 L468.0,1092.1 L470.5,1098.7 L472.9,1105.2 L475.4,1111.5 L477.9,1117.8 L480.4,1123.9 L482.8,1130.0 L485.3,1135.9 L487.8,1141.7 L490.2,1147.4 L492.7,1152.9 L495.2,1158.3 L497.6,1163.5 L500.1,1168.5 L502.6,1173.4 L505.1,1178.2 L507.5,1182.7 L510.0,1187.1 L512.5,1191.3 L514.9,1195.3 L517.4,1199.1 L519.9,1202.7 L522.4,1206.1 L524.8,1209.3 L527.3,1212.3 L529.8,1215.2 L532.2,1217.8 L534.7,1220.3 L537.2,1222.5 L539.7,1224.6 L542.1,1226.5 L544.6,1228.2 L547.1,1229.7 L549.5,1231.0 L552.0,1232.2 L554.5,1233.2 L556.9,1233.9 L559.4,1234.5 L561.9,1235.0 L564.4,1235.2 L566.8,1235.3 L569.3,1235.2 L571.8,1234.9 L574.2,1234.4 L576.7,1233.8 L579.2,1233.0 L581.7,1232.0 L584.1,1230.9 L586.6,1229.5 L589.1,1228.1 L591.5,1226.4 L594.0,1224.6 L596.5,1222.6 L598.9,1220.5 L601.4,1218.3 L603.9,1215.9 L606.4,1213.5 L608.8,1210.9 L611.3,1208.4 L613.8,1205.7 L616.2,1203.0 L618.7,1200.2 L621.2,1197.3 L623.7,1194.4 L626.1,1191.4 L628.6,1188.3 L631.1,1185.1 L633.5,1181.8 L636.0,1178.4 L638.5,1175.0 L640.9,1171.4 L643.4,1167.7 L645.9,1163.9 L648.4,1160.1 L650.8,1156.1 L653.3,1152.0 L655.8,1147.9 L658.2,1143.6 L660.7,1139.3 L663.2,1134.9 L665.7,1130.5 L668.1,1126.0 L670.6,1121.4 L673.1,1116.7 L675.5,1112.0 L678.0,1107.3 L680.5,1102.5 L683.0,1097.7 L685.4,1092.8 L687.9,1087.9 L690.4,1082.9 L692.8,1078.0 L695.3,1073.0 L697.8,1067.9 L700.2,1062.9 L702.7,1057.8 L705.2,1052.7 L707.7,1047.6 L710.1,1042.5 L712.6,1037.4 L715.1,1032.3 L717.5,1027.2 L720.0,1022.0 L722.5,1016.9 L725.0,1011.7 L727.4,1006.5 L729.9,1001.3 L732.4,996.1 L734.8,990.9 L737.3,985.7 L739.8,980.5 L742.2,975.2 L744.7,970.0 L747.2,964.7 L749.7,959.4 L752.1,954.2 L754.6,948.9 L757.1,943.6 L759.5,938.3 L762.0,932.9 L764.5,927.6 L767.0,922.3 L769.4,916.9 L771.9,911.6 L774.4,906.2 L776.8,900.8 L779.3,895.4 L781.8,890.0 L784.2,884.6 L786.7,879.2 L789.2,873.7 L791.7,868.3 L794.1,862.8 L796.6,857.4 L799.1,851.9 L801.5,846.4 L804.0,840.9 L806.5,835.4 L809.0,829.9 L811.4,824.4 L813.9,818.9 L816.4,813.4 L818.8,807.8 L821.3,802.2 L823.8,796.7 L826.2,791.1 L828.7,785.5 L831.2,779.9 L833.7,774.3 L836.1,768.7 L838.6,763.1 L841.1,757.4 L843.5,751.8 L846.0,746.2 L848.5,740.5 L851.0,734.8 L853.4,729.1 L855.9,723.5 L858.4,717.8 L860.8,712.1 L863.3,706.3 L865.8,700.6 L868.3,694.9 L870.7,689.1 L873.2,683.4 L875.7,677.6 L878.1,671.9 L880.6,666.1 L883.1,660.3 L885.5,654.5 L888.0,648.7 L890.5,642.9 L893.0,637.1 L895.4,631.4 L897.9,625.6 L900.4,619.8 L902.8,614.0 L905.3,608.2 L907.8,602.5 L910.3,596.7 L912.7,590.9 L915.2,585.2 L917.7,579.5 L920.1,573.8 L922.6,568.1 L925.1,562.4 L927.5,556.7 L930.0,551.0 L932.5,545.4 L935.0,539.8 L937.4,534.2 L939.9,528.6 L942.4,523.1 L944.8,517.5 L947.3,512.0 L949.8,506.6 L952.3,501.1 L954.7,495.7 L957.2,490.3 L959.7,485.0 L962.1,479.6 L964.6,474.3 L967.1,469.1 L969.5,463.9 L972.0,458.7 L974.5,453.6 L977.0,448.5 L979.4,443.4 L981.9,438.4 L984.4,433.4 L986.8,428.5 L989.3,423.6 L991.8,418.8 L994.3,414.0 L996.7,409.3 L999.2,404.6 L1001.7,399.9 L1004.1,395.4 L1006.6,390.8 L1009.1,386.4 L1011.6,382.0 L1014.0,377.6 L1016.5,373.3 L1019.0,369.1 L1021.4,364.9 L1023.9,360.8 L1026.4,356.7 L1028.8,352.8 L1031.3,348.8 L1033.8,345.0 L1036.3,341.2 L1038.7,337.5 L1041.2,333.9 L1043.7,330.3 L1046.1,326.8 L1048.6,323.4 L1051.1,320.0 L1053.6,316.8 L1056.0,313.6 L1058.5,310.4 L1061.0,307.4 L1063.4,304.4 L1065.9,301.4 L1068.4,298.6 L1070.8,295.8 L1073.3,293.1 L1075.8,290.4 L1078.3,287.8 L1080.7,285.2 L1083.2,282.7 L1085.7,280.3 L1088.1,277.9 L1090.6,275.6 L1093.1,273.3 L1095.6,271.1 L1098.0,269.0 L1100.5,266.8 L1103.0,264.8 L1105.4,262.8 L1107.9,260.8 L1110.4,258.9 L1112.8,257.0 L1115.3,255.2 L1117.8,253.4 L1120.3,251.6 L1122.7,249.9 L1125.2,248.3 L1127.7,246.6 L1130.1,245.0 L1132.6,243.5 L1135.1,241.9 L1137.6,240.5 L1140.0,239.0 L1142.5,237.6 L1145.0,236.2 L1147.4,234.8 L1149.9,233.5 L1152.4,232.2 L1154.9,230.9 L1157.3,229.6 L1159.8,228.4 L1162.3,227.1 L1164.7,226.0 L1167.2,224.8 L1169.7,223.6 L1172.1,222.5 L1174.6,221.3 L1177.1,220.2 L1179.6,219.1 L1182.0,218.1 L1184.5,217.0 L1187.0,215.9 L1189.4,214.9 L1191.9,213.9 L1194.4,212.9 L1196.9,211.9 L1199.3,210.9 L1201.8,209.9 L1204.3,209.0 L1206.7,208.0 L1209.2,207.1 L1211.7,206.2 L1214.1,205.3 L1216.6,204.4 L1219.1,203.5 L1221.6,202.6 L1224.0,201.8 L1226.5,200.9 L1229.0,200.1 L1231.4,199.3 L1233.9,198.5 L1236.4,197.7 L1238.9,196.9 L1241.3,196.1 L1243.8,195.4 L1246.3,194.6 L1248.7,193.9 L1251.2,193.2 L1253.7,192.5 L1256.1,191.8 L1258.6,191.1 L1261.1,190.4 L1263.6,189.7 L1266.0,189.1 L1268.5,188.4 L1271.0,187.8 L1273.4,187.2 L1275.9,186.5 L1278.4,185.9 L1280.9,185.3 L1283.3,184.8 L1285.8,184.2 L1288.3,183.6 L1290.7,183.1 L1293.2,182.5 L1295.7,182.0 L1298.1,181.5 L1300.6,180.9 L1303.1,180.4 L1305.6,179.9 L1308.0,179.4 L1310.5,179.0 L1313.0,178.5 L1315.4,178.0 L1317.9,177.6 L1320.4,177.1 L1322.9,176.7 L1325.3,176.2 L1327.8,175.8 L1330.3,175.4 L1332.7,175.0 L1335.2,174.6 L1337.7,174.2 L1340.2,173.8 L1342.6,173.4 L1345.1,173.0 L1347.6,172.7 L1350.0,172.3 L1352.5,172.0 L1355.0,171.6 L1357.4,171.3 L1359.9,171.0 L1362.4,170.6 L1364.9,170.3 L1367.3,170.0 L1369.8,169.7 L1372.3,169.4 L1374.7,169.1 L1377.2,168.8 L1379.7,168.6 L1382.2,168.3 L1384.6,168.0 L1387.1,167.7 L1389.6,167.5 L1392.0,167.2 L1394.5,167.0 L1397.0,166.7 L1399.4,166.5 L1401.9,166.3 L1404.4,166.0 L1406.9,165.8 L1409.3,165.6 L1411.8,165.4 L1414.3,165.2 L1416.7,165.0 L1419.2,164.8 L1421.7,164.6 L1424.2,164.4 L1426.6,164.2 L1429.1,164.0 L1431.6,163.8 L1434.0,163.6 L1436.5,163.4 L1439.0,163.3 L1441.4,163.1 L1443.9,162.9 L1446.4,162.8 L1448.9,162.6 L1451.3,162.4 L1453.8,162.3 L1456.3,162.1 L1458.7,162.0 L1461.2,161.8 L1463.7,161.7 L1466.2,161.5 L1468.6,161.4 L1471.1,161.3 L1473.6,161.1 L1476.0,161.0 L1478.5,160.9 L1481.0,160.7 L1483.5,160.6 L1485.9,160.5 L1488.4,160.4 L1490.9,160.3 L1493.3,160.1 L1495.8,160.0 L1498.3,159.9 L1500.7,159.8 L1503.2,159.7 L1505.7,159.6 L1508.2,159.5 L1510.6,159.4 L1513.1,159.3 L1515.6,159.2 L1518.0,159.1 L1520.5,159.0 L1523.0,158.9 L1525.5,158.8 L1527.9,158.7 L1530.4,158.7 L1532.9,158.6 L1535.3,158.5 L1537.8,158.4 L1540.3,158.3 L1542.7,158.3 L1545.2,158.2 L1547.7,158.1 L1550.2,158.0 L1552.6,158.0 L1555.1,157.9 L1557.6,157.8 L1560.0,157.7 L1562.5,157.7 L1565.0,157.6 L1567.5,157.5 L1569.9,157.5 L1572.4,157.4 L1574.9,157.3 L1577.3,157.3 L1579.8,157.2 L1582.3,157.2 L1584.7,157.1 L1587.2,157.0 L1589.7,157.0 L1592.2,156.9 L1594.6,156.9 L1597.1,156.8 L1599.6,156.7 L1602.0,156.7 L1604.5,156.6 L1607.0,156.6 L1609.5,156.5 L1611.9,156.5 L1614.4,156.4 L1616.9,156.3 L1619.3,156.3 L1621.8,156.2 L1624.3,156.2 L1626.8,156.1 L1629.2,156.1 L1631.7,156.0 L1634.2,156.0 L1636.6,155.9 L1639.1,155.8 L1641.6,155.8 L1644.0,155.7 L1646.5,155.7 L1649.0,155.6 L1651.5,155.6 L1653.9,155.5 L1656.4,155.4 L1658.9,155.4 L1661.3,155.3 L1663.8,155.3 L1666.3,155.2 L1668.8,155.1 L1671.2,155.1 L1673.7,155.0 L1676.2,154.9 L1678.6,154.9 L1681.1,154.8 L1683.6,154.7 L1686.0,154.7 L1688.5,154.6 L1691.0,154.5 L1693.5,154.4 L1695.9,154.4 L1698.4,154.3 L1700.9,154.2 L1703.3,154.1 L1705.8,154.1 L1708.3,154.0 L1710.8,153.9 L1713.2,153.8 L1715.7,153.7 L1718.2,153.6 L1720.6,153.5 L1723.1,153.5 L1725.6,153.4 L1728.0,153.3 L1730.5,153.2 L1733.0,153.1 L1735.5,153.0 L1737.9,152.9 L1740.4,152.8 L1742.9,152.7 L1745.3,152.5 L1747.8,152.4 L1750.3,152.3 L1752.8,152.2 L1755.2,152.1 L1757.7,152.0 L1760.2,151.9 L1762.6,151.7 L1765.1,151.6 L1767.6,151.5 L1770.0,151.3 L1772.5,151.2 L1775.0,151.1 L1777.5,150.9 L1779.9,150.8 L1782.4,150.6 L1784.9,150.5 L1787.3,150.3 L1789.8,150.2 L1792.3,150.0 L1794.8,149.9"/>
<path class="cv" stroke="#006400" d="M302.5,725.8 L304.9,728.1 L307.4,730.5 L309.9,732.9 L312.3,735.5 L314.8,738.2 L317.3,741.0 L319.8,743.9 L322.2,746.9 L324.7,750.1 L327.2,753.4 L329.6,756.8 L332.1,760.3 L334.6,764.0 L337.1,767.7 L339.5,771.6 L342.0,775.6 L344.5,779.8 L346.9,784.0 L349.4,788.4 L351.9,792.8 L354.4,797.4 L356.8,802.1 L359.3,807.0 L361.8,811.9 L364.2,817.0 L366.7,822.1 L369.2,827.4 L371.6,832.8 L374.1,838.3 L376.6,844.0 L379.1,849.7 L381.5,855.5 L384.0,861.5 L386.5,867.6 L388.9,873.8 L391.4,880.0 L393.9,886.4 L396.4,892.9 L398.8,899.5 L401.3,906.2 L403.8,912.9 L406.2,919.7 L408.7,926.6 L411.2,933.5 L413.6,940.5 L416.1,947.5 L418.6,954.6 L421.1,961.7 L423.5,968.9 L426.0,976.0 L428.5,983.2 L430.9,990.4 L433.4,997.6 L435.9,1004.8 L438.4,1012.0 L440.8,1019.2 L443.3,1026.4 L445.8,1033.5 L448.2,1040.6 L450.7,1047.7 L453.2,1054.7 L455.6,1061.7 L458.1,1068.6 L460.6,1075.5 L463.1,1082.2 L465.5,1089.0 L468.0,1095.6 L470.5,1102.2 L472.9,1108.6 L475.4,1115.0 L477.9,1121.3 L480.4,1127.4 L482.8,1133.5 L485.3,1139.4 L487.8,1145.2 L490.2,1150.8 L492.7,1156.4 L495.2,1161.7 L497.6,1167.0 L500.1,1172.0 L502.6,1176.9 L505.1,1181.7 L507.5,1186.2 L510.0,1190.6 L512.5,1194.8 L514.9,1198.8 L517.4,1202.6 L519.9,1206.2 L522.4,1209.6 L524.8,1212.8 L527.3,1215.8 L529.8,1218.7 L532.2,1221.3 L534.7,1223.8 L537.2,1226.0 L539.7,1228.1 L542.1,1230.0 L544.6,1231.7 L547.1,1233.2 L549.5,1234.5 L552.0,1235.7 L554.5,1236.6 L556.9,1237.4 L559.4,1238.0 L561.9,1238.5 L564.4,1238.7 L566.8,1238.8 L569.3,1238.7 L571.8,1238.4 L574.2,1237.9 L576.7,1237.3 L579.2,1236.5 L581.7,1235.5 L584.1,1234.4 L586.6,1233.0 L589.1,1231.5 L591.5,1229.9 L594.0,1228.1 L596.5,1226.1 L598.9,1224.0 L601.4,1221.7 L603.9,1219.4 L606.4,1216.9 L608.8,1214.4 L611.3,1211.8 L613.8,1209.2 L616.2,1206.5 L618.7,1203.7 L621.2,1200.8 L623.7,1197.9 L626.1,1194.9 L628.6,1191.8 L631.1,1188.6 L633.5,1185.3 L636.0,1182.0 L638.5,1178.5 L640.9,1175.0 L643.4,1171.3 L645.9,1167.5 L648.4,1163.7 L650.8,1159.7 L653.3,1155.7 L655.8,1151.5 L658.2,1147.3 L660.7,1143.0 L663.2,1138.6 L665.7,1134.1 L668.1,1129.6 L670.6,1125.0 L673.1,1120.4 L675.5,1115.6 L678.0,1110.9 L680.5,1106.1 L683.0,1101.2 L685.4,1096.3 L687.9,1091.3 L690.4,1086.4 L692.8,1081.4 L695.3,1076.3 L697.8,1071.3 L700.2,1066.2 L702.7,1061.1 L705.2,1056.0 L707.7,1050.8 L710.1,1045.7 L712.6,1040.6 L715.1,1035.4 L717.5,1030.3 L720.0,1025.1 L722.5,1019.9 L725.0,1014.8 L727.4,1009.6 L729.9,1004.4 L732.4,999.2 L734.8,994.0 L737.3,988.8 L739.8,983.5 L742.2,978.3 L744.7,973.1 L747.2,967.8 L749.7,962.6 L752.1,957.3 L754.6,952.0 L757.1,946.7 L759.5,941.4 L762.0,936.1 L764.5,930.8 L767.0,925.5 L769.4,920.2 L771.9,914.9 L774.4,909.5 L776.8,904.1 L779.3,898.8 L781.8,893.4 L784.2,888.0 L786.7,882.6 L789.2,877.2 L791.7,871.8 L794.1,866.4 L796.6,861.0 L799.1,855.5 L801.5,850.1 L804.0,844.6 L806.5,839.2 L809.0,833.7 L811.4,828.2 L813.9,822.7 L816.4,817.2 L818.8,811.7 L821.3,806.1 L823.8,800.6 L826.2,795.0 L828.7,789.5 L831.2,783.9 L833.7,778.3 L836.1,772.7 L838.6,767.1 L841.1,761.5 L843.5,755.9 L846.0,750.3 L848.5,744.6 L851.0,739.0 L853.4,733.3 L855.9,727.6 L858.4,721.9 L860.8,716.2 L863.3,710.5 L865.8,704.8 L868.3,699.1 L870.7,693.3 L873.2,687.5 L875.7,681.8 L878.1,676.0 L880.6,670.2 L883.1,664.4 L885.5,658.6 L888.0,652.8 L890.5,647.0 L893.0,641.2 L895.4,635.4 L897.9,629.6 L900.4,623.7 L902.8,617.9 L905.3,612.1 L907.8,606.3 L910.3,600.5 L912.7,594.7 L915.2,588.9 L917.7,583.2 L920.1,577.4 L922.6,571.7 L925.1,565.9 L927.5,560.2 L930.0,554.5 L932.5,548.8 L935.0,543.1 L937.4,537.5 L939.9,531.9 L942.4,526.3 L944.8,520.7 L947.3,515.1 L949.8,509.6 L952.3,504.1 L954.7,498.6 L957.2,493.2 L959.7,487.7 L962.1,482.4 L964.6,477.0 L967.1,471.7 L969.5,466.4 L972.0,461.2 L974.5,456.0 L977.0,450.8 L979.4,445.7 L981.9,440.6 L984.4,435.5 L986.8,430.5 L989.3,425.6 L991.8,420.7 L994.3,415.8 L996.7,411.0 L999.2,406.3 L1001.7,401.6 L1004.1,396.9 L1006.6,392.3 L1009.1,387.8 L1011.6,383.3 L1014.0,378.9 L1016.5,374.5 L1019.0,370.2 L1021.4,366.0 L1023.9,361.8 L1026.4,357.7 L1028.8,353.6 L1031.3,349.7 L1033.8,345.8 L1036.3,341.9 L1038.7,338.1 L1041.2,334.4 L1043.7,330.8 L1046.1,327.3 L1048.6,323.8 L1051.1,320.4 L1053.6,317.0 L1056.0,313.8 L1058.5,310.6 L1061.0,307.5 L1063.4,304.4 L1065.9,301.4 L1068.4,298.5 L1070.8,295.7 L1073.3,292.9 L1075.8,290.2 L1078.3,287.5 L1080.7,284.9 L1083.2,282.4 L1085.7,279.9 L1088.1,277.5 L1090.6,275.1 L1093.1,272.8 L1095.6,270.5 L1098.0,268.3 L1100.5,266.2 L1103.0,264.1 L1105.4,262.0 L1107.9,260.0 L1110.4,258.1 L1112.8,256.1 L1115.3,254.3 L1117.8,252.5 L1120.3,250.7 L1122.7,248.9 L1125.2,247.2 L1127.7,245.6 L1130.1,243.9 L1132.6,242.4 L1135.1,240.8 L1137.6,239.3 L1140.0,237.8 L1142.5,236.4 L1145.0,234.9 L1147.4,233.5 L1149.9,232.2 L1152.4,230.8 L1154.9,229.5 L1157.3,228.2 L1159.8,227.0 L1162.3,225.8 L1164.7,224.5 L1167.2,223.3 L1169.7,222.2 L1172.1,221.0 L1174.6,219.9 L1177.1,218.7 L1179.6,217.6 L1182.0,216.5 L1184.5,215.5 L1187.0,214.4 L1189.4,213.3 L1191.9,212.3 L1194.4,211.3 L1196.9,210.3 L1199.3,209.3 L1201.8,208.3 L1204.3,207.4 L1206.7,206.4 L1209.2,205.5 L1211.7,204.6 L1214.1,203.6 L1216.6,202.8 L1219.1,201.9 L1221.6,201.0 L1224.0,200.2 L1226.5,199.3 L1229.0,198.5 L1231.4,197.7 L1233.9,196.9 L1236.4,196.1 L1238.9,195.3 L1241.3,194.5 L1243.8,193.8 L1246.3,193.1 L1248.7,192.3 L1251.2,191.6 L1253.7,190.9 L1256.1,190.2 L1258.6,189.5 L1261.1,188.9 L1263.6,188.2 L1266.0,187.6 L1268.5,186.9 L1271.0,186.3 L1273.4,185.7 L1275.9,185.1 L1278.4,184.5 L1280.9,183.9 L1283.3,183.4 L1285.8,182.8 L1288.3,182.3 L1290.7,181.7 L1293.2,181.2 L1295.7,180.7 L1298.1,180.2 L1300.6,179.7 L1303.1,179.2 L1305.6,178.7 L1308.0,178.2 L1310.5,177.8 L1313.0,177.3 L1315.4,176.9 L1317.9,176.4 L1320.4,176.0 L1322.9,175.6 L1325.3,175.2 L1327.8,174.8 L1330.3,174.4 L1332.7,174.0 L1335.2,173.6 L1337.7,173.3 L1340.2,172.9 L1342.6,172.6 L1345.1,172.2 L1347.6,171.9 L1350.0,171.5 L1352.5,171.2 L1355.0,170.9 L1357.4,170.6 L1359.9,170.3 L1362.4,170.0 L1364.9,169.7 L1367.3,169.4 L1369.8,169.2 L1372.3,168.9 L1374.7,168.7 L1377.2,168.4 L1379.7,168.1 L1382.2,167.9 L1384.6,167.7 L1387.1,167.4 L1389.6,167.2 L1392.0,167.0 L1394.5,166.8 L1397.0,166.6 L1399.4,166.4 L1401.9,166.2 L1404.4,166.0 L1406.9,165.8 L1409.3,165.6 L1411.8,165.4 L1414.3,165.3 L1416.7,165.1 L1419.2,164.9 L1421.7,164.8 L1424.2,164.6 L1426.6,164.5 L1429.1,164.3 L1431.6,164.2 L1434.0,164.0 L1436.5,163.9 L1439.0,163.7 L1441.4,163.6 L1443.9,163.5 L1446.4,163.4 L1448.9,163.2 L1451.3,163.1 L1453.8,163.0 L1456.3,162.9 L1458.7,162.8 L1461.2,162.7 L1463.7,162.6 L1466.2,162.5 L1468.6,162.4 L1471.1,162.3 L1473.6,162.2 L1476.0,162.1 L1478.5,162.0 L1481.0,161.9 L1483.5,161.8 L1485.9,161.7 L1488.4,161.7 L1490.9,161.6 L1493.3,161.5 L1495.8,161.4 L1498.3,161.4 L1500.7,161.3 L1503.2,161.2 L1505.7,161.1 L1508.2,161.1 L1510.6,161.0 L1513.1,161.0 L1515.6,160.9 L1518.0,160.8 L1520.5,160.8 L1523.0,160.7 L1525.5,160.7 L1527.9,160.6 L1530.4,160.5 L1532.9,160.5 L1535.3,160.4 L1537.8,160.4 L1540.3,160.3 L1542.7,160.3 L1545.2,160.2 L1547.7,160.2 L1550.2,160.1 L1552.6,160.1 L1555.1,160.1 L1557.6,160.0 L1560.0,160.0 L1562.5,159.9 L1565.0,159.9 L1567.5,159.8 L1569.9,159.8 L1572.4,159.7 L1574.9,159.7 L1577.3,159.6 L1579.8,159.6 L1582.3,159.6 L1584.7,159.5 L1587.2,159.5 L1589.7,159.4 L1592.2,159.4 L1594.6,159.3 L1597.1,159.3 L1599.6,159.2 L1602.0,159.2 L1604.5,159.1 L1607.0,159.1 L1609.5,159.0 L1611.9,159.0 L1614.4,158.9 L1616.9,158.8 L1619.3,158.8 L1621.8,158.7 L1624.3,158.7 L1626.8,158.6 L1629.2,158.5 L1631.7,158.5 L1634.2,158.4 L1636.6,158.3 L1639.1,158.3 L1641.6,158.2 L1644.0,158.1 L1646.5,158.1 L1649.0,158.0 L1651.5,157.9 L1653.9,157.8 L1656.4,157.7 L1658.9,157.6 L1661.3,157.6 L1663.8,157.5 L1666.3,157.4 L1668.8,157.3 L1671.2,157.2 L1673.7,157.1 L1676.2,157.0 L1678.6,156.9 L1681.1,156.8 L1683.6,156.7 L1686.0,156.6 L1688.5,156.5 L1691.0,156.3 L1693.5,156.2 L1695.9,156.1 L1698.4,156.0 L1700.9,155.9 L1703.3,155.8 L1705.8,155.7 L1708.3,155.6 L1710.8,155.5 L1713.2,155.4 L1715.7,155.3 L1718.2,155.2 L1720.6,155.1 L1723.1,155.0 L1725.6,154.9 L1728.0,154.8 L1730.5,154.7 L1733.0,154.7 L1735.5,154.6 L1737.9,154.5 L1740.4,154.4 L1742.9,154.4 L1745.3,154.3 L1747.8,154.3 L1750.3,154.2 L1752.8,154.2 L1755.2,154.1 L1757.7,154.1 L1760.2,154.1 L1762.6,154.0 L1765.1,154.0 L1767.6,154.0 L1770.0,154.0 L1772.5,154.0 L1775.0,154.0 L1777.5,154.0 L1779.9,154.1 L1782.4,154.1 L1784.9,154.1 L1787.3,154.2 L1789.8,154.2 L1792.3,154.3 L1794.8,154.4"/>
</g></g>
<text xml:space="preserve" transform="translate(168.85,90.6) scale(0.9000,0.8400)" font-size="100">90</text>
<text xml:space="preserve" transform="translate(168.85,323.8) scale(0.9000,0.8400)" font-size="100">85</text>
<text xml:space="preserve" transform="translate(168.85,553.8) scale(0.9000,0.8400)" font-size="100">80</text>
<text xml:space="preserve" transform="translate(168.85,786.5) scale(0.9000,0.8400)" font-size="100">75</text>
<text xml:space="preserve" transform="translate(168.85,1019.5) scale(0.9000,0.8400)" font-size="100">70</text>
<text xml:space="preserve" transform="translate(168.85,1252.2) scale(0.9000,0.8400)" font-size="100">65</text>
<text xml:space="preserve" transform="translate(168.85,1482.2) scale(0.9000,0.8400)" font-size="100">60</text>
<text xml:space="preserve" transform="translate(265.38,1580.5) scale(0.9000,0.8400)" font-size="100">400</text>
<text xml:space="preserve" transform="translate(586.17,1580.5) scale(0.9000,0.8400)" font-size="100">430</text>
<text xml:space="preserve" transform="translate(905.77,1580.5) scale(0.9000,0.8400)" font-size="100">460</text>
<text xml:space="preserve" transform="translate(1225.88,1580.5) scale(0.9000,0.8400)" font-size="100">490</text>
<text xml:space="preserve" transform="translate(1546.45,1580.5) scale(0.9000,0.8400)" font-size="100">520</text>
<text xml:space="preserve" transform="translate(1866.65,1580.5) scale(0.9000,0.8400)" font-size="100">550</text>
<text xml:space="preserve" transform="translate(757.2,1715.9) scale(0.9680,0.9200)" font-size="100">Wavelength  (nm)</text>
<text xml:space="preserve" transform="translate(95.9,1170.0) rotate(-90) scale(0.9170,0.9500)" font-size="100">Transmittance  (%)</text>
<text xml:space="preserve" transform="translate(1473,848.5) scale(0.7900,0.7450)" font-size="100">original state</text>
<text xml:space="preserve" transform="translate(1473,958.4) scale(0.7900,0.7450)" font-size="100">1st</text>
<text xml:space="preserve" transform="translate(1473,1064.9) scale(0.7900,0.7450)" font-size="100">2nd</text>
<text xml:space="preserve" transform="translate(1473,1171.7) scale(0.7900,0.7450)" font-size="100">3rd</text>
<text xml:space="preserve" transform="translate(1473,1278.4) scale(0.7900,0.7450)" font-size="100">4th</text>
<text xml:space="preserve" transform="translate(1473,1386.3) scale(0.7900,0.7450)" font-size="100">5th</text>
<rect x="1376.4" y="820.4" width="94.7" height="11.2" rx="3" fill="#0000ff"/>
<rect x="1376.4" y="927.5" width="94.7" height="11.2" rx="3" fill="#ff0000"/>
<rect x="1376.4" y="1033.9" width="94.7" height="11.2" rx="3" fill="#ffc000"/>
<rect x="1376.4" y="1143.3" width="94.7" height="11.2" rx="3" fill="#cc00cc"/>
<rect x="1376.4" y="1249.8" width="94.7" height="11.2" rx="3" fill="#00ff00"/>
<rect x="1376.4" y="1356.5" width="94.7" height="11.2" rx="3" fill="#006400"/>
</svg></body></html>
